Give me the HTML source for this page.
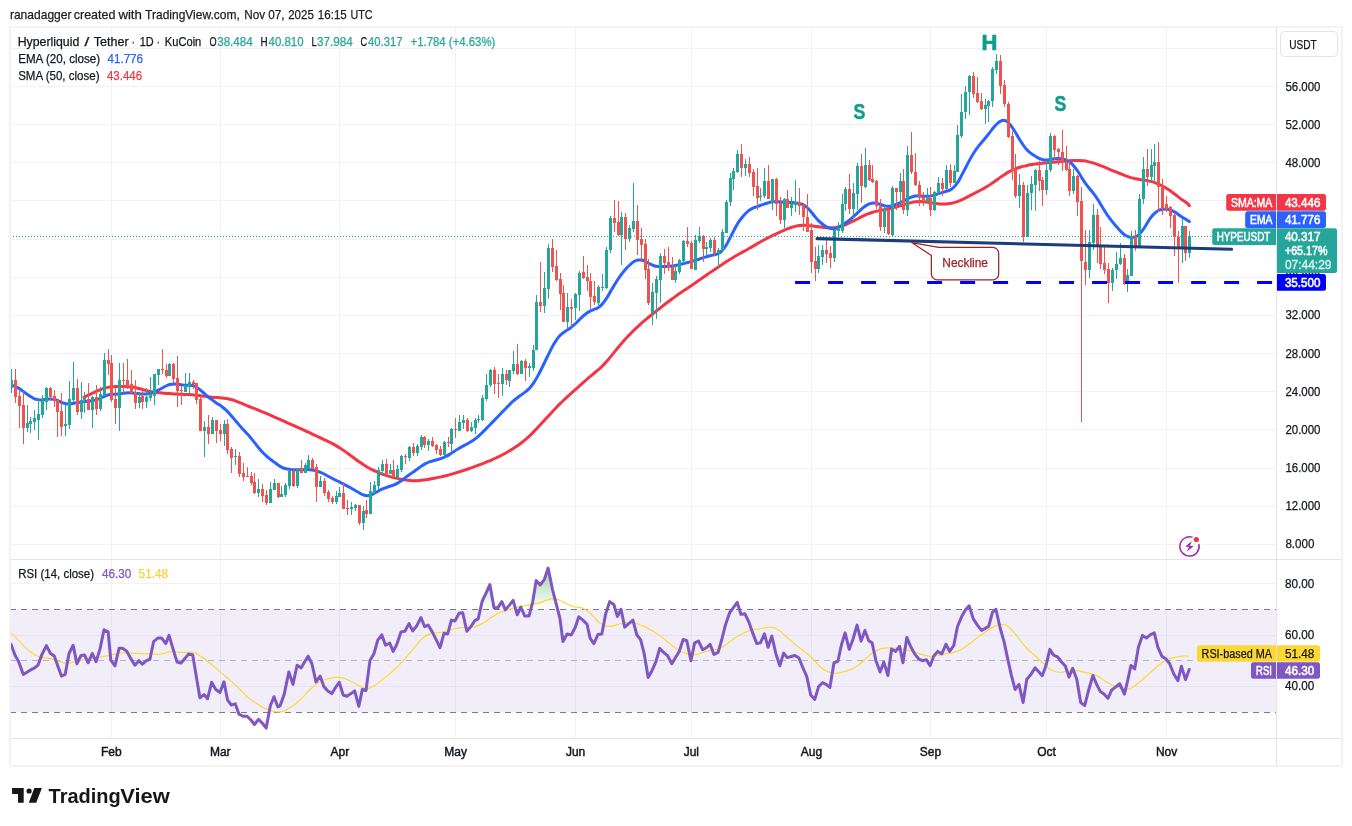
<!DOCTYPE html>
<html lang="en"><head><meta charset="utf-8"><title>HYPEUSDT chart</title>
<style>html,body{margin:0;padding:0;background:#fff}svg{display:block}</style></head>
<body>
<svg width="1352" height="826" viewBox="0 0 1352 826" font-family='"Liberation Sans", sans-serif'>
<defs>
<linearGradient id="gob" gradientUnits="userSpaceOnUse" x1="0" y1="545" x2="0" y2="609.2"><stop offset="0" stop-color="#4caf50" stop-opacity="0.85"/><stop offset="1" stop-color="#4caf50" stop-opacity="0"/></linearGradient>
<linearGradient id="gos" gradientUnits="userSpaceOnUse" x1="0" y1="712.2" x2="0" y2="776"><stop offset="0" stop-color="#ff5252" stop-opacity="0"/><stop offset="1" stop-color="#ff5252" stop-opacity="0.85"/></linearGradient>
<clipPath id="cob"><rect x="10" y="560" width="1266.5" height="49.200000000000045"/></clipPath>
<clipPath id="cos"><rect x="10" y="712.2" width="1266.5" height="25.799999999999955"/></clipPath>
<clipPath id="cpane"><rect x="11" y="27" width="1265.5" height="532.5"/></clipPath>
<clipPath id="crsi"><rect x="11" y="560" width="1265.5" height="178.5"/></clipPath>
</defs>
<rect width="1352" height="826" fill="#fff"/>
<text y="19" font-size="13" fill="#1b1d26" stroke="#1b1d26" stroke-width="0.25" ><tspan x="9.9" textLength="61.6" lengthAdjust="spacingAndGlyphs">ranadagger</tspan> <tspan x="73.8" textLength="41.6" lengthAdjust="spacingAndGlyphs">created</tspan> <tspan x="118.4" textLength="23.5" lengthAdjust="spacingAndGlyphs">with</tspan> <tspan x="145.1" textLength="94.7" lengthAdjust="spacingAndGlyphs">TradingView.com,</tspan> <tspan x="244.3" textLength="20.8" lengthAdjust="spacingAndGlyphs">Nov</tspan> <tspan x="268.2" textLength="16.4" lengthAdjust="spacingAndGlyphs">07,</tspan> <tspan x="288.2" textLength="25.7" lengthAdjust="spacingAndGlyphs">2025</tspan> <tspan x="317.8" textLength="29" lengthAdjust="spacingAndGlyphs">16:15</tspan> <tspan x="350.4" textLength="22.1" lengthAdjust="spacingAndGlyphs">UTC</tspan></text>
<g stroke="#f2f2f5" stroke-width="1" shape-rendering="crispEdges">
<line x1="111.5" y1="27" x2="111.5" y2="738.5"/>
<line x1="220.5" y1="27" x2="220.5" y2="738.5"/>
<line x1="339.5" y1="27" x2="339.5" y2="738.5"/>
<line x1="455.5" y1="27" x2="455.5" y2="738.5"/>
<line x1="575.5" y1="27" x2="575.5" y2="738.5"/>
<line x1="691.5" y1="27" x2="691.5" y2="738.5"/>
<line x1="811.5" y1="27" x2="811.5" y2="738.5"/>
<line x1="930.5" y1="27" x2="930.5" y2="738.5"/>
<line x1="1046.5" y1="27" x2="1046.5" y2="738.5"/>
<line x1="1166.5" y1="27" x2="1166.5" y2="738.5"/>
<line x1="10" y1="48.5" x2="1276.5" y2="48.5"/>
<line x1="10" y1="86.5" x2="1276.5" y2="86.5"/>
<line x1="10" y1="124.5" x2="1276.5" y2="124.5"/>
<line x1="10" y1="162.5" x2="1276.5" y2="162.5"/>
<line x1="10" y1="200.5" x2="1276.5" y2="200.5"/>
<line x1="10" y1="239.5" x2="1276.5" y2="239.5"/>
<line x1="10" y1="277.5" x2="1276.5" y2="277.5"/>
<line x1="10" y1="315.5" x2="1276.5" y2="315.5"/>
<line x1="10" y1="353.5" x2="1276.5" y2="353.5"/>
<line x1="10" y1="391.5" x2="1276.5" y2="391.5"/>
<line x1="10" y1="429.5" x2="1276.5" y2="429.5"/>
<line x1="10" y1="468.5" x2="1276.5" y2="468.5"/>
<line x1="10" y1="506.5" x2="1276.5" y2="506.5"/>
<line x1="10" y1="544.5" x2="1276.5" y2="544.5"/>
<line x1="10" y1="583.5" x2="1276.5" y2="583.5"/>
<line x1="10" y1="635.5" x2="1276.5" y2="635.5"/>
<line x1="10" y1="686.5" x2="1276.5" y2="686.5"/>
</g>
<rect x="10" y="609.2" width="1266.5" height="103.0" fill="#7e57c2" fill-opacity="0.1"/>
<g stroke="#787b86" stroke-width="1" stroke-dasharray="6 5" fill="none">
<line x1="10" y1="609.5" x2="1276.5" y2="609.5"/>
<line x1="10" y1="712.5" x2="1276.5" y2="712.5"/>
<line x1="10" y1="660.5" x2="1276.5" y2="660.5" stroke-opacity="0.5"/>
</g>
<g clip-path="url(#crsi)">
<polygon clip-path="url(#cob)" fill="url(#gob)" points="11.03,609.2 11.03,644.22 15.14,655.53 18.23,660.68 23.37,674.47 30.58,669.94 34.69,667.88 38.19,664.79 41.89,654.51 46.42,645.66 50.53,653.48 54.24,655.95 57.74,665.82 61.44,676.11 65.14,674.47 69.05,653.48 73.17,645.25 76.87,663.77 80.99,655.53 84.49,654.92 88.19,662.74 92.3,653.48 96.01,661.71 99.92,649.36 104.03,629.81 108.15,631.87 110.82,660.06 114.94,665.82 119.05,648.33 122.76,648.33 126.87,651.42 130.78,658.62 134.9,665.21 139.01,660.68 142.3,664.18 146.42,660.68 149.92,659.24 153.62,641.54 157.74,638.05 161.65,638.05 165.76,643.6 169.05,635.37 173.17,649.36 177.08,662.12 180.78,663.15 184.9,658.62 188.6,653.89 192.72,654.92 196.21,676.11 199.92,697.72 204.03,694.63 207.53,698.74 211.65,682.28 215.76,689.49 219.88,692.57 223.99,681.87 227.49,699.77 231.19,704.92 235.31,703.89 239.01,714.18 243.13,716.23 247.04,716.23 250.74,719.73 254.44,724.47 258.56,719.32 262.47,723.44 266.17,728.17 270.29,705.95 273.99,696.69 277.9,706.98 280,705.95 284.12,694.63 288.85,672 292.96,684.34 297.08,665.21 301.19,667.88 304.69,661.71 308.19,656.15 311.89,663.77 316.01,681.87 320.12,676.11 323.83,686.4 327.74,690.93 331.85,693.6 335.56,687.43 339.26,682.28 343.17,695.04 346.87,696.28 350.99,693.6 354.69,690.93 358.81,706.36 362.3,689.49 366.01,690.51 369.92,660.68 374.03,653.48 377.74,640.1 381.85,634.96 385.56,645.25 389.67,643.19 393.17,651.42 396.87,644.22 400.99,631.87 404.9,631.26 409.01,623.64 412.72,630.84 416.83,625.7 420.95,617.47 424.65,626.73 428.15,625.08 432.26,631.87 436.38,640.1 440.08,647.72 443.99,633.31 447.7,633.93 451.4,620.14 454.9,620.97 459.01,613.35 462.72,612.74 466.83,631.26 470.74,626.73 474.86,620.56 478.15,618.91 482.26,601.01 486.17,592.78 489.88,584.55 493.99,607.8 497.7,607.8 501.81,601.63 505.31,609.86 509.42,605.12 513.13,600.39 517.24,614.79 520.74,607.18 524.86,616.03 528.97,616.03 532.67,602.04 536.17,580.43 540.29,584.96 544.4,579.4 548.11,568.09 552.47,589.28 555.76,602.04 559.88,618.09 562.96,641.54 567.08,633.93 571.19,634.96 575.1,627.76 578.81,616.85 582.92,620.14 587.04,624.26 590.12,638.05 593.83,643.6 597.94,634.55 601.85,633.93 605.56,614.38 609.67,601.63 613.79,604.51 617.49,616.44 620.99,609.24 624.69,627.14 628.81,623.64 632.92,620.14 636.83,634.96 640.53,639.49 644.24,653.89 648.15,677.55 651.85,670.97 655.97,661.71 659.67,648.33 663.58,652.45 667.7,655.95 671.81,663.77 675.51,657.59 679.22,651.42 683.13,639.49 686.83,640.72 690.95,660.68 694.65,642.78 698.56,641.13 702.67,649.77 706.38,647.72 710.08,644.22 713.99,654.51 718.11,652.45 721.81,639.49 725.51,624.67 729.63,612.74 733.74,607.18 737.24,602.45 740.95,614.38 744.86,613.77 748.97,622.2 752.67,632.9 756.79,643.6 760.49,642.78 764.4,633.93 768.11,647.3 771.81,635.99 775.93,653.89 779.84,665.82 783.54,653.07 787.24,657.59 791.15,656.56 794.86,655.53 798.97,658 802.67,667.26 806.79,676.52 810.7,695.04 814.81,699.36 818.52,686.81 822.47,682.7 826.17,684.34 829.88,687.43 833.99,662.74 837.9,661.3 841.6,644.22 845.1,632.9 849.22,649.36 852.92,639.49 857.04,625.08 861.15,641.13 864.86,630.43 868.77,640.72 872.06,642.78 875.97,660.68 880.08,672 883.79,662.12 887.9,675.49 891.6,648.95 895.72,651.42 899.63,646.28 902.92,662.74 906.83,637.43 910.53,646.28 914.65,653.89 918.77,659.03 922.47,660.68 926.38,659.65 930.08,665.82 933.79,655.95 937.7,651.42 941.81,653.89 945.93,644.22 949.63,651.42 953.74,645.66 957.45,626.73 961.56,616.85 965.47,609.86 969.18,605.74 973.29,618.91 977.41,625.08 981.52,630.43 985.23,628.37 988.72,626.32 992.43,612.33 995.93,609.24 1000.04,627.76 1004.16,642.16 1007.65,658.62 1011.36,675.08 1015.06,689.49 1018.97,684.34 1023.09,702.45 1026.79,679.2 1030.49,675.08 1035.02,667.88 1038.52,671.58 1042.22,675.7 1045.93,665.82 1049.84,649.36 1053.54,655.12 1057.65,656.98 1061.36,661.71 1065.47,666.23 1068.97,677.14 1072.67,668.29 1076.79,679.2 1080.7,702.45 1084.7,705.53 1088.81,689.49 1092.93,675.49 1096.63,684.34 1100.34,691.54 1104.25,694.22 1107.95,698.33 1111.65,690.1 1115.77,686.81 1119.68,683.72 1124.41,694.22 1127.5,681.26 1131,665.41 1134.7,668.91 1138.4,647.3 1142.52,635.37 1146.43,638.05 1150.54,634.55 1154.25,632.9 1157.95,647.3 1161.86,656.15 1165.98,659.03 1169.68,663.77 1173.79,674.05 1177.91,680.64 1181.41,666.23 1185.52,679.61 1189.23,669.53 1189.23,609.2"/>
<polygon clip-path="url(#cos)" fill="url(#gos)" points="11.03,712.2 11.03,644.22 15.14,655.53 18.23,660.68 23.37,674.47 30.58,669.94 34.69,667.88 38.19,664.79 41.89,654.51 46.42,645.66 50.53,653.48 54.24,655.95 57.74,665.82 61.44,676.11 65.14,674.47 69.05,653.48 73.17,645.25 76.87,663.77 80.99,655.53 84.49,654.92 88.19,662.74 92.3,653.48 96.01,661.71 99.92,649.36 104.03,629.81 108.15,631.87 110.82,660.06 114.94,665.82 119.05,648.33 122.76,648.33 126.87,651.42 130.78,658.62 134.9,665.21 139.01,660.68 142.3,664.18 146.42,660.68 149.92,659.24 153.62,641.54 157.74,638.05 161.65,638.05 165.76,643.6 169.05,635.37 173.17,649.36 177.08,662.12 180.78,663.15 184.9,658.62 188.6,653.89 192.72,654.92 196.21,676.11 199.92,697.72 204.03,694.63 207.53,698.74 211.65,682.28 215.76,689.49 219.88,692.57 223.99,681.87 227.49,699.77 231.19,704.92 235.31,703.89 239.01,714.18 243.13,716.23 247.04,716.23 250.74,719.73 254.44,724.47 258.56,719.32 262.47,723.44 266.17,728.17 270.29,705.95 273.99,696.69 277.9,706.98 280,705.95 284.12,694.63 288.85,672 292.96,684.34 297.08,665.21 301.19,667.88 304.69,661.71 308.19,656.15 311.89,663.77 316.01,681.87 320.12,676.11 323.83,686.4 327.74,690.93 331.85,693.6 335.56,687.43 339.26,682.28 343.17,695.04 346.87,696.28 350.99,693.6 354.69,690.93 358.81,706.36 362.3,689.49 366.01,690.51 369.92,660.68 374.03,653.48 377.74,640.1 381.85,634.96 385.56,645.25 389.67,643.19 393.17,651.42 396.87,644.22 400.99,631.87 404.9,631.26 409.01,623.64 412.72,630.84 416.83,625.7 420.95,617.47 424.65,626.73 428.15,625.08 432.26,631.87 436.38,640.1 440.08,647.72 443.99,633.31 447.7,633.93 451.4,620.14 454.9,620.97 459.01,613.35 462.72,612.74 466.83,631.26 470.74,626.73 474.86,620.56 478.15,618.91 482.26,601.01 486.17,592.78 489.88,584.55 493.99,607.8 497.7,607.8 501.81,601.63 505.31,609.86 509.42,605.12 513.13,600.39 517.24,614.79 520.74,607.18 524.86,616.03 528.97,616.03 532.67,602.04 536.17,580.43 540.29,584.96 544.4,579.4 548.11,568.09 552.47,589.28 555.76,602.04 559.88,618.09 562.96,641.54 567.08,633.93 571.19,634.96 575.1,627.76 578.81,616.85 582.92,620.14 587.04,624.26 590.12,638.05 593.83,643.6 597.94,634.55 601.85,633.93 605.56,614.38 609.67,601.63 613.79,604.51 617.49,616.44 620.99,609.24 624.69,627.14 628.81,623.64 632.92,620.14 636.83,634.96 640.53,639.49 644.24,653.89 648.15,677.55 651.85,670.97 655.97,661.71 659.67,648.33 663.58,652.45 667.7,655.95 671.81,663.77 675.51,657.59 679.22,651.42 683.13,639.49 686.83,640.72 690.95,660.68 694.65,642.78 698.56,641.13 702.67,649.77 706.38,647.72 710.08,644.22 713.99,654.51 718.11,652.45 721.81,639.49 725.51,624.67 729.63,612.74 733.74,607.18 737.24,602.45 740.95,614.38 744.86,613.77 748.97,622.2 752.67,632.9 756.79,643.6 760.49,642.78 764.4,633.93 768.11,647.3 771.81,635.99 775.93,653.89 779.84,665.82 783.54,653.07 787.24,657.59 791.15,656.56 794.86,655.53 798.97,658 802.67,667.26 806.79,676.52 810.7,695.04 814.81,699.36 818.52,686.81 822.47,682.7 826.17,684.34 829.88,687.43 833.99,662.74 837.9,661.3 841.6,644.22 845.1,632.9 849.22,649.36 852.92,639.49 857.04,625.08 861.15,641.13 864.86,630.43 868.77,640.72 872.06,642.78 875.97,660.68 880.08,672 883.79,662.12 887.9,675.49 891.6,648.95 895.72,651.42 899.63,646.28 902.92,662.74 906.83,637.43 910.53,646.28 914.65,653.89 918.77,659.03 922.47,660.68 926.38,659.65 930.08,665.82 933.79,655.95 937.7,651.42 941.81,653.89 945.93,644.22 949.63,651.42 953.74,645.66 957.45,626.73 961.56,616.85 965.47,609.86 969.18,605.74 973.29,618.91 977.41,625.08 981.52,630.43 985.23,628.37 988.72,626.32 992.43,612.33 995.93,609.24 1000.04,627.76 1004.16,642.16 1007.65,658.62 1011.36,675.08 1015.06,689.49 1018.97,684.34 1023.09,702.45 1026.79,679.2 1030.49,675.08 1035.02,667.88 1038.52,671.58 1042.22,675.7 1045.93,665.82 1049.84,649.36 1053.54,655.12 1057.65,656.98 1061.36,661.71 1065.47,666.23 1068.97,677.14 1072.67,668.29 1076.79,679.2 1080.7,702.45 1084.7,705.53 1088.81,689.49 1092.93,675.49 1096.63,684.34 1100.34,691.54 1104.25,694.22 1107.95,698.33 1111.65,690.1 1115.77,686.81 1119.68,683.72 1124.41,694.22 1127.5,681.26 1131,665.41 1134.7,668.91 1138.4,647.3 1142.52,635.37 1146.43,638.05 1150.54,634.55 1154.25,632.9 1157.95,647.3 1161.86,656.15 1165.98,659.03 1169.68,663.77 1173.79,674.05 1177.91,680.64 1181.41,666.23 1185.52,679.61 1189.23,669.53 1189.23,712.2"/>
<path d="M11.03 632.9C11.7 633.57 13.7 635.57 15.03 636.9C16.36 638.23 17.7 639.57 19.03 640.9C20.36 642.23 21.7 643.58 23.03 644.9C24.36 646.22 25.7 647.62 27.03 648.84C28.36 650.05 29.7 651.18 31.03 652.21C32.36 653.23 33.7 654.24 35.03 654.97C36.36 655.71 37.7 656.18 39.03 656.63C40.36 657.08 41.7 657.42 43.03 657.67C44.36 657.93 45.7 657.93 47.03 658.14C48.36 658.35 49.7 658.61 51.03 658.92C52.36 659.23 53.7 659.6 55.03 660.02C56.36 660.44 57.7 661.01 59.03 661.43C60.36 661.86 61.7 662.33 63.03 662.58C64.36 662.84 65.7 662.96 67.03 662.96C68.36 662.96 69.7 662.79 71.03 662.58C72.36 662.37 73.7 662 75.03 661.73C76.36 661.46 77.7 661.19 79.03 660.94C80.36 660.69 81.7 660.45 83.03 660.21C84.36 659.98 85.7 659.75 87.03 659.53C88.36 659.3 89.7 659.07 91.03 658.84C92.36 658.62 93.7 658.39 95.03 658.17C96.36 657.95 97.7 657.73 99.03 657.5C100.36 657.27 101.7 657.03 103.03 656.77C104.36 656.51 105.7 656.22 107.03 655.92C108.36 655.62 109.7 655.29 111.03 654.97C112.36 654.64 113.7 654.27 115.03 653.97C116.36 653.67 117.7 653.37 119.03 653.17C120.36 652.97 121.7 652.84 123.03 652.79C124.36 652.73 125.7 652.77 127.03 652.82C128.36 652.87 129.7 652.99 131.03 653.07C132.36 653.15 133.7 653.23 135.03 653.3C136.36 653.38 137.7 653.44 139.03 653.5C140.36 653.56 141.7 653.61 143.03 653.66C144.36 653.71 145.7 653.75 147.03 653.8C148.36 653.85 149.7 653.9 151.03 653.96C152.36 654.02 153.7 654.1 155.03 654.14C156.36 654.19 157.7 654.3 159.03 654.22C160.36 654.13 161.7 653.91 163.03 653.62C164.36 653.33 165.7 652.8 167.03 652.48C168.36 652.15 169.7 651.79 171.03 651.66C172.36 651.53 173.7 651.61 175.03 651.71C176.36 651.81 177.7 652.16 179.03 652.28C180.36 652.41 181.7 652.47 183.03 652.46C184.36 652.45 185.7 652.26 187.03 652.24C188.36 652.21 189.7 652.16 191.03 652.32C192.36 652.48 193.7 652.7 195.03 653.18C196.36 653.66 197.7 654.4 199.03 655.17C200.36 655.95 201.7 656.88 203.03 657.84C204.36 658.8 205.7 659.89 207.03 660.94C208.36 661.98 209.7 663.02 211.03 664.09C212.36 665.17 213.7 666.28 215.03 667.4C216.36 668.53 217.7 669.68 219.03 670.85C220.36 672.01 221.7 673.23 223.03 674.39C224.36 675.55 225.7 676.7 227.03 677.82C228.36 678.95 229.7 680 231.03 681.12C232.36 682.25 233.7 683.37 235.03 684.59C236.36 685.82 237.7 687.11 239.03 688.46C240.36 689.81 241.7 691.34 243.03 692.68C244.36 694.02 245.7 695.31 247.03 696.49C248.36 697.67 249.7 698.77 251.03 699.77C252.36 700.77 253.7 701.61 255.03 702.5C256.36 703.39 257.7 704.25 259.03 705.1C260.36 705.94 261.7 706.84 263.03 707.56C264.36 708.28 265.7 708.89 267.03 709.42C268.36 709.94 269.7 710.33 271.03 710.71C272.36 711.08 273.7 711.45 275.03 711.65C276.36 711.86 277.7 712 279.03 711.95C280.36 711.9 281.7 711.75 283.03 711.36C284.36 710.96 285.7 710.27 287.03 709.56C288.36 708.85 289.7 707.98 291.03 707.09C292.36 706.19 293.7 705.26 295.03 704.21C296.36 703.16 297.7 701.98 299.03 700.77C300.36 699.55 301.7 698.27 303.03 696.92C304.36 695.58 305.7 694.06 307.03 692.69C308.36 691.32 309.7 689.97 311.03 688.71C312.36 687.45 313.7 686.19 315.03 685.13C316.36 684.06 317.7 683.11 319.03 682.3C320.36 681.49 321.7 680.82 323.03 680.28C324.36 679.73 325.7 679.39 327.03 679.04C328.36 678.69 329.7 678.47 331.03 678.2C332.36 677.92 333.7 677.54 335.03 677.4C336.36 677.25 337.7 677.22 339.03 677.32C340.36 677.42 341.7 677.62 343.03 677.98C344.36 678.35 345.7 678.96 347.03 679.52C348.36 680.07 349.7 680.65 351.03 681.31C352.36 681.96 353.7 682.72 355.03 683.46C356.36 684.2 357.7 685.04 359.03 685.75C360.36 686.46 361.7 687.28 363.03 687.72C364.36 688.16 365.7 688.41 367.03 688.39C368.36 688.36 369.7 688.08 371.03 687.56C372.36 687.04 373.7 686.13 375.03 685.26C376.36 684.4 377.7 683.39 379.03 682.37C380.36 681.34 381.7 680.19 383.03 679.11C384.36 678.03 385.7 676.97 387.03 675.88C388.36 674.79 389.7 673.71 391.03 672.56C392.36 671.4 393.7 670.21 395.03 668.96C396.36 667.72 397.7 666.46 399.03 665.11C400.36 663.76 401.7 662.33 403.03 660.87C404.36 659.41 405.7 657.91 407.03 656.36C408.36 654.82 409.7 653.19 411.03 651.59C412.36 650 413.7 648.39 415.03 646.79C416.36 645.19 417.7 643.46 419.03 641.99C420.36 640.53 421.7 639.16 423.03 638.02C424.36 636.87 425.7 635.86 427.03 635.14C428.36 634.42 429.7 634.04 431.03 633.67C432.36 633.3 433.7 633.11 435.03 632.93C436.36 632.75 437.7 632.74 439.03 632.59C440.36 632.43 441.7 632.26 443.03 632C444.36 631.74 445.7 631.4 447.03 631.04C448.36 630.68 449.7 630.22 451.03 629.83C452.36 629.44 453.7 629.03 455.03 628.71C456.36 628.39 457.7 628.09 459.03 627.89C460.36 627.69 461.7 627.59 463.03 627.51C464.36 627.44 465.7 627.48 467.03 627.44C468.36 627.4 469.7 627.41 471.03 627.27C472.36 627.12 473.7 626.91 475.03 626.56C476.36 626.2 477.7 625.7 479.03 625.12C480.36 624.54 481.7 623.86 483.03 623.08C484.36 622.31 485.7 621.37 487.03 620.47C488.36 619.58 489.7 618.61 491.03 617.72C492.36 616.83 493.7 615.94 495.03 615.14C496.36 614.34 497.7 613.59 499.03 612.95C500.36 612.3 501.7 611.78 503.03 611.27C504.36 610.75 505.7 610.28 507.03 609.85C508.36 609.43 509.7 609.09 511.03 608.74C512.36 608.39 513.7 608.06 515.03 607.76C516.36 607.45 517.7 607.18 519.03 606.91C520.36 606.63 521.7 606.37 523.03 606.11C524.36 605.84 525.7 605.57 527.03 605.31C528.36 605.04 529.7 604.77 531.03 604.51C532.36 604.24 533.7 603.97 535.03 603.71C536.36 603.44 537.7 603.26 539.03 602.91C540.36 602.55 541.7 602.08 543.03 601.59C544.36 601.1 545.7 600.44 547.03 599.97C548.36 599.51 549.7 599 551.03 598.79C552.36 598.57 553.7 598.48 555.03 598.68C556.36 598.88 557.7 599.45 559.03 599.98C560.36 600.52 561.7 601.23 563.03 601.9C564.36 602.58 565.7 603.38 567.03 604.02C568.36 604.67 569.7 605.31 571.03 605.77C572.36 606.24 573.7 606.54 575.03 606.82C576.36 607.09 577.7 607.18 579.03 607.44C580.36 607.7 581.7 607.83 583.03 608.36C584.36 608.88 585.7 609.63 587.03 610.59C588.36 611.56 589.7 612.86 591.03 614.15C592.36 615.44 593.7 616.97 595.03 618.34C596.36 619.7 597.7 621.22 599.03 622.34C600.36 623.46 601.7 624.39 603.03 625.06C604.36 625.73 605.7 626.18 607.03 626.35C608.36 626.52 609.7 626.26 611.03 626.09C612.36 625.93 613.7 625.67 615.03 625.37C616.36 625.07 617.7 624.64 619.03 624.28C620.36 623.93 621.7 623.52 623.03 623.24C624.36 622.96 625.7 622.73 627.03 622.61C628.36 622.49 629.7 622.42 631.03 622.52C632.36 622.61 633.7 622.9 635.03 623.2C636.36 623.49 637.7 623.84 639.03 624.29C640.36 624.75 641.7 625.33 643.03 625.92C644.36 626.52 645.7 627.17 647.03 627.87C648.36 628.57 649.7 629.36 651.03 630.13C652.36 630.89 653.7 631.66 655.03 632.47C656.36 633.29 657.7 634.09 659.03 635.01C660.36 635.94 661.7 636.95 663.03 638C664.36 639.06 665.7 640.24 667.03 641.36C668.36 642.48 669.7 643.67 671.03 644.73C672.36 645.79 673.7 646.82 675.03 647.74C676.36 648.67 677.7 649.52 679.03 650.29C680.36 651.06 681.7 651.78 683.03 652.38C684.36 652.97 685.7 653.46 687.03 653.86C688.36 654.25 689.7 654.62 691.03 654.76C692.36 654.9 693.7 654.83 695.03 654.69C696.36 654.54 697.7 654.26 699.03 653.9C700.36 653.54 701.7 652.98 703.03 652.52C704.36 652.06 705.7 651.53 707.03 651.14C708.36 650.75 709.7 650.45 711.03 650.21C712.36 649.97 713.7 649.95 715.03 649.71C716.36 649.46 717.7 649.21 719.03 648.74C720.36 648.26 721.7 647.66 723.03 646.86C724.36 646.07 725.7 644.96 727.03 643.96C728.36 642.96 729.7 641.87 731.03 640.86C732.36 639.85 733.7 638.83 735.03 637.91C736.36 636.99 737.7 636.1 739.03 635.33C740.36 634.56 741.7 633.92 743.03 633.29C744.36 632.67 745.7 632.07 747.03 631.6C748.36 631.12 749.7 630.76 751.03 630.43C752.36 630.1 753.7 629.85 755.03 629.61C756.36 629.36 757.7 629.19 759.03 628.96C760.36 628.74 761.7 628.52 763.03 628.27C764.36 628.02 765.7 627.64 767.03 627.47C768.36 627.3 769.7 627.16 771.03 627.25C772.36 627.34 773.7 627.49 775.03 628.01C776.36 628.52 777.7 629.41 779.03 630.34C780.36 631.27 781.7 632.43 783.03 633.59C784.36 634.75 785.7 636.07 787.03 637.28C788.36 638.49 789.7 639.71 791.03 640.86C792.36 642.01 793.7 643.11 795.03 644.19C796.36 645.27 797.7 646.31 799.03 647.35C800.36 648.39 801.7 649.38 803.03 650.41C804.36 651.45 805.7 652.41 807.03 653.55C808.36 654.68 809.7 655.94 811.03 657.24C812.36 658.54 813.7 659.98 815.03 661.36C816.36 662.73 817.7 664.23 819.03 665.5C820.36 666.77 821.7 668 823.03 668.97C824.36 669.95 825.7 670.72 827.03 671.35C828.36 671.99 829.7 672.46 831.03 672.77C832.36 673.09 833.7 673.23 835.03 673.25C836.36 673.27 837.7 673.08 839.03 672.88C840.36 672.67 841.7 672.35 843.03 672.01C844.36 671.68 845.7 671.3 847.03 670.87C848.36 670.44 849.7 670 851.03 669.42C852.36 668.84 853.7 668.2 855.03 667.4C856.36 666.6 857.7 665.64 859.03 664.6C860.36 663.57 861.7 662.38 863.03 661.19C864.36 660.01 865.7 658.71 867.03 657.5C868.36 656.29 869.7 654.99 871.03 653.95C872.36 652.9 873.7 652.02 875.03 651.25C876.36 650.48 877.7 649.82 879.03 649.33C880.36 648.84 881.7 648.57 883.03 648.31C884.36 648.06 885.7 647.87 887.03 647.8C888.36 647.72 889.7 647.8 891.03 647.87C892.36 647.94 893.7 648.07 895.03 648.22C896.36 648.36 897.7 648.56 899.03 648.72C900.36 648.89 901.7 649.02 903.03 649.21C904.36 649.4 905.7 649.59 907.03 649.86C908.36 650.14 909.7 650.48 911.03 650.86C912.36 651.25 913.7 651.74 915.03 652.19C916.36 652.65 917.7 653.14 919.03 653.59C920.36 654.03 921.7 654.45 923.03 654.85C924.36 655.25 925.7 655.72 927.03 655.96C928.36 656.21 929.7 656.33 931.03 656.35C932.36 656.36 933.7 656.25 935.03 656.04C936.36 655.83 937.7 655.39 939.03 655.09C940.36 654.78 941.7 654.45 943.03 654.2C944.36 653.95 945.7 653.76 947.03 653.57C948.36 653.37 949.7 653.27 951.03 653.03C952.36 652.79 953.7 652.53 955.03 652.13C956.36 651.72 957.7 651.22 959.03 650.58C960.36 649.94 961.7 649.11 963.03 648.28C964.36 647.44 965.7 646.52 967.03 645.57C968.36 644.62 969.7 643.57 971.03 642.57C972.36 641.57 973.7 640.57 975.03 639.57C976.36 638.57 977.7 637.57 979.03 636.57C980.36 635.57 981.7 634.55 983.03 633.59C984.36 632.62 985.7 631.68 987.03 630.77C988.36 629.86 989.7 628.9 991.03 628.13C992.36 627.36 993.7 626.73 995.03 626.15C996.36 625.57 997.7 624.94 999.03 624.67C1000.36 624.39 1001.7 624.34 1003.03 624.51C1004.36 624.69 1005.7 624.98 1007.03 625.72C1008.36 626.46 1009.7 627.66 1011.03 628.96C1012.36 630.25 1013.7 631.85 1015.03 633.5C1016.36 635.14 1017.7 637.1 1019.03 638.83C1020.36 640.57 1021.7 642.29 1023.03 643.9C1024.36 645.51 1025.7 647.09 1027.03 648.49C1028.36 649.89 1029.7 651.08 1031.03 652.3C1032.36 653.51 1033.7 654.6 1035.03 655.78C1036.36 656.96 1037.7 658.16 1039.03 659.39C1040.36 660.63 1041.7 661.92 1043.03 663.17C1044.36 664.42 1045.7 665.81 1047.03 666.89C1048.36 667.97 1049.7 668.91 1051.03 669.67C1052.36 670.43 1053.7 671.03 1055.03 671.45C1056.36 671.87 1057.7 672.1 1059.03 672.19C1060.36 672.29 1061.7 672.2 1063.03 672.04C1064.36 671.88 1065.7 671.47 1067.03 671.22C1068.36 670.97 1069.7 670.68 1071.03 670.55C1072.36 670.41 1073.7 670.3 1075.03 670.39C1076.36 670.47 1077.7 670.79 1079.03 671.05C1080.36 671.31 1081.7 671.65 1083.03 671.95C1084.36 672.24 1085.7 672.52 1087.03 672.81C1088.36 673.1 1089.7 673.32 1091.03 673.69C1092.36 674.06 1093.7 674.46 1095.03 675.03C1096.36 675.6 1097.7 676.34 1099.03 677.12C1100.36 677.91 1101.7 678.88 1103.03 679.73C1104.36 680.59 1105.7 681.46 1107.03 682.25C1108.36 683.05 1109.7 683.82 1111.03 684.5C1112.36 685.18 1113.7 685.79 1115.03 686.34C1116.36 686.88 1117.7 687.35 1119.03 687.78C1120.36 688.21 1121.7 688.66 1123.03 688.9C1124.36 689.13 1125.7 689.3 1127.03 689.19C1128.36 689.09 1129.7 688.82 1131.03 688.26C1132.36 687.7 1133.7 686.77 1135.03 685.82C1136.36 684.86 1137.7 683.65 1139.03 682.51C1140.36 681.37 1141.7 680.14 1143.03 678.98C1144.36 677.82 1145.7 676.7 1147.03 675.55C1148.36 674.39 1149.7 673.23 1151.03 672.04C1152.36 670.86 1153.7 669.6 1155.03 668.43C1156.36 667.27 1157.7 666.11 1159.03 665.06C1160.36 664.01 1161.7 662.95 1163.03 662.12C1164.36 661.28 1165.7 660.64 1167.03 660.05C1168.36 659.45 1169.7 658.97 1171.03 658.54C1172.36 658.1 1173.7 657.75 1175.03 657.42C1176.36 657.08 1177.7 656.74 1179.03 656.52C1180.36 656.29 1181.7 656.14 1183.03 656.06C1184.36 655.98 1186.06 656.03 1187.03 656.05C1187.99 656.06 1188.52 656.13 1188.81 656.15" fill="none" stroke="#fdd835" stroke-width="1.2" stroke-linejoin="round"/>
<polyline points="11.03,644.22 15.14,655.53 18.23,660.68 23.37,674.47 30.58,669.94 34.69,667.88 38.19,664.79 41.89,654.51 46.42,645.66 50.53,653.48 54.24,655.95 57.74,665.82 61.44,676.11 65.14,674.47 69.05,653.48 73.17,645.25 76.87,663.77 80.99,655.53 84.49,654.92 88.19,662.74 92.3,653.48 96.01,661.71 99.92,649.36 104.03,629.81 108.15,631.87 110.82,660.06 114.94,665.82 119.05,648.33 122.76,648.33 126.87,651.42 130.78,658.62 134.9,665.21 139.01,660.68 142.3,664.18 146.42,660.68 149.92,659.24 153.62,641.54 157.74,638.05 161.65,638.05 165.76,643.6 169.05,635.37 173.17,649.36 177.08,662.12 180.78,663.15 184.9,658.62 188.6,653.89 192.72,654.92 196.21,676.11 199.92,697.72 204.03,694.63 207.53,698.74 211.65,682.28 215.76,689.49 219.88,692.57 223.99,681.87 227.49,699.77 231.19,704.92 235.31,703.89 239.01,714.18 243.13,716.23 247.04,716.23 250.74,719.73 254.44,724.47 258.56,719.32 262.47,723.44 266.17,728.17 270.29,705.95 273.99,696.69 277.9,706.98 280,705.95 284.12,694.63 288.85,672 292.96,684.34 297.08,665.21 301.19,667.88 304.69,661.71 308.19,656.15 311.89,663.77 316.01,681.87 320.12,676.11 323.83,686.4 327.74,690.93 331.85,693.6 335.56,687.43 339.26,682.28 343.17,695.04 346.87,696.28 350.99,693.6 354.69,690.93 358.81,706.36 362.3,689.49 366.01,690.51 369.92,660.68 374.03,653.48 377.74,640.1 381.85,634.96 385.56,645.25 389.67,643.19 393.17,651.42 396.87,644.22 400.99,631.87 404.9,631.26 409.01,623.64 412.72,630.84 416.83,625.7 420.95,617.47 424.65,626.73 428.15,625.08 432.26,631.87 436.38,640.1 440.08,647.72 443.99,633.31 447.7,633.93 451.4,620.14 454.9,620.97 459.01,613.35 462.72,612.74 466.83,631.26 470.74,626.73 474.86,620.56 478.15,618.91 482.26,601.01 486.17,592.78 489.88,584.55 493.99,607.8 497.7,607.8 501.81,601.63 505.31,609.86 509.42,605.12 513.13,600.39 517.24,614.79 520.74,607.18 524.86,616.03 528.97,616.03 532.67,602.04 536.17,580.43 540.29,584.96 544.4,579.4 548.11,568.09 552.47,589.28 555.76,602.04 559.88,618.09 562.96,641.54 567.08,633.93 571.19,634.96 575.1,627.76 578.81,616.85 582.92,620.14 587.04,624.26 590.12,638.05 593.83,643.6 597.94,634.55 601.85,633.93 605.56,614.38 609.67,601.63 613.79,604.51 617.49,616.44 620.99,609.24 624.69,627.14 628.81,623.64 632.92,620.14 636.83,634.96 640.53,639.49 644.24,653.89 648.15,677.55 651.85,670.97 655.97,661.71 659.67,648.33 663.58,652.45 667.7,655.95 671.81,663.77 675.51,657.59 679.22,651.42 683.13,639.49 686.83,640.72 690.95,660.68 694.65,642.78 698.56,641.13 702.67,649.77 706.38,647.72 710.08,644.22 713.99,654.51 718.11,652.45 721.81,639.49 725.51,624.67 729.63,612.74 733.74,607.18 737.24,602.45 740.95,614.38 744.86,613.77 748.97,622.2 752.67,632.9 756.79,643.6 760.49,642.78 764.4,633.93 768.11,647.3 771.81,635.99 775.93,653.89 779.84,665.82 783.54,653.07 787.24,657.59 791.15,656.56 794.86,655.53 798.97,658 802.67,667.26 806.79,676.52 810.7,695.04 814.81,699.36 818.52,686.81 822.47,682.7 826.17,684.34 829.88,687.43 833.99,662.74 837.9,661.3 841.6,644.22 845.1,632.9 849.22,649.36 852.92,639.49 857.04,625.08 861.15,641.13 864.86,630.43 868.77,640.72 872.06,642.78 875.97,660.68 880.08,672 883.79,662.12 887.9,675.49 891.6,648.95 895.72,651.42 899.63,646.28 902.92,662.74 906.83,637.43 910.53,646.28 914.65,653.89 918.77,659.03 922.47,660.68 926.38,659.65 930.08,665.82 933.79,655.95 937.7,651.42 941.81,653.89 945.93,644.22 949.63,651.42 953.74,645.66 957.45,626.73 961.56,616.85 965.47,609.86 969.18,605.74 973.29,618.91 977.41,625.08 981.52,630.43 985.23,628.37 988.72,626.32 992.43,612.33 995.93,609.24 1000.04,627.76 1004.16,642.16 1007.65,658.62 1011.36,675.08 1015.06,689.49 1018.97,684.34 1023.09,702.45 1026.79,679.2 1030.49,675.08 1035.02,667.88 1038.52,671.58 1042.22,675.7 1045.93,665.82 1049.84,649.36 1053.54,655.12 1057.65,656.98 1061.36,661.71 1065.47,666.23 1068.97,677.14 1072.67,668.29 1076.79,679.2 1080.7,702.45 1084.7,705.53 1088.81,689.49 1092.93,675.49 1096.63,684.34 1100.34,691.54 1104.25,694.22 1107.95,698.33 1111.65,690.1 1115.77,686.81 1119.68,683.72 1124.41,694.22 1127.5,681.26 1131,665.41 1134.7,668.91 1138.4,647.3 1142.52,635.37 1146.43,638.05 1150.54,634.55 1154.25,632.9 1157.95,647.3 1161.86,656.15 1165.98,659.03 1169.68,663.77 1173.79,674.05 1177.91,680.64 1181.41,666.23 1185.52,679.61 1189.23,669.53" fill="none" stroke="#7e57c2" stroke-width="3" stroke-linejoin="round" stroke-linecap="round"/>
</g>
<g clip-path="url(#cpane)">
<path d="M83.9 397.26C84.57 396.95 86.57 396.04 87.9 395.41C89.23 394.78 90.57 394.11 91.9 393.48C93.23 392.85 94.57 392.24 95.9 391.64C97.23 391.04 98.57 390.41 99.9 389.87C101.23 389.33 102.57 388.84 103.9 388.43C105.23 388.01 106.57 387.65 107.9 387.37C109.23 387.1 110.57 386.9 111.9 386.75C113.23 386.59 114.57 386.51 115.9 386.46C117.23 386.4 118.57 386.44 119.9 386.44C121.23 386.44 122.57 386.42 123.9 386.46C125.23 386.5 126.57 386.57 127.9 386.67C129.23 386.77 130.57 386.88 131.9 387.06C133.23 387.24 134.57 387.47 135.9 387.74C137.23 388.02 138.57 388.36 139.9 388.71C141.23 389.06 142.57 389.47 143.9 389.84C145.23 390.2 146.57 390.57 147.9 390.89C149.23 391.22 150.57 391.53 151.9 391.78C153.23 392.04 154.57 392.23 155.9 392.41C157.23 392.59 158.57 392.71 159.9 392.84C161.23 392.97 162.57 393.08 163.9 393.18C165.23 393.29 166.57 393.37 167.9 393.46C169.23 393.56 170.57 393.65 171.9 393.74C173.23 393.84 174.57 393.94 175.9 394.02C177.23 394.11 178.57 394.18 179.9 394.25C181.23 394.31 182.57 394.36 183.9 394.41C185.23 394.45 186.57 394.46 187.9 394.51C189.23 394.57 190.57 394.64 191.9 394.75C193.23 394.85 194.57 394.99 195.9 395.13C197.23 395.28 198.57 395.44 199.9 395.61C201.23 395.79 202.57 395.99 203.9 396.18C205.23 396.38 206.57 396.6 207.9 396.77C209.23 396.94 210.57 397.07 211.9 397.19C213.23 397.3 214.57 397.38 215.9 397.47C217.23 397.56 218.57 397.62 219.9 397.73C221.23 397.84 222.57 397.96 223.9 398.14C225.23 398.32 226.57 398.51 227.9 398.79C229.23 399.06 230.57 399.42 231.9 399.81C233.23 400.2 234.57 400.65 235.9 401.13C237.23 401.62 238.57 402.17 239.9 402.7C241.23 403.23 242.57 403.78 243.9 404.34C245.23 404.89 246.57 405.47 247.9 406.02C249.23 406.57 250.57 407.11 251.9 407.64C253.23 408.17 254.57 408.68 255.9 409.21C257.23 409.74 258.57 410.27 259.9 410.81C261.23 411.35 262.57 411.9 263.9 412.45C265.23 413.01 266.57 413.58 267.9 414.15C269.23 414.73 270.57 415.32 271.9 415.91C273.23 416.5 274.57 417.09 275.9 417.68C277.23 418.28 278.57 418.87 279.9 419.46C281.23 420.05 282.57 420.65 283.9 421.24C285.23 421.83 286.57 422.43 287.9 423.02C289.23 423.61 290.57 424.2 291.9 424.79C293.23 425.38 294.57 425.97 295.9 426.56C297.23 427.15 298.57 427.73 299.9 428.32C301.23 428.92 302.57 429.52 303.9 430.12C305.23 430.73 306.57 431.34 307.9 431.96C309.23 432.57 310.57 433.2 311.9 433.83C313.23 434.46 314.57 435.09 315.9 435.73C317.23 436.36 318.57 437 319.9 437.64C321.23 438.27 322.57 438.9 323.9 439.53C325.23 440.15 326.57 440.74 327.9 441.39C329.23 442.04 330.57 442.7 331.9 443.4C333.23 444.1 334.57 444.84 335.9 445.61C337.23 446.38 338.57 447.18 339.9 448.01C341.23 448.85 342.57 449.71 343.9 450.62C345.23 451.54 346.57 452.52 347.9 453.49C349.23 454.46 350.57 455.45 351.9 456.44C353.23 457.43 354.57 458.45 355.9 459.43C357.23 460.41 358.57 461.37 359.9 462.3C361.23 463.23 362.57 464.16 363.9 465.01C365.23 465.87 366.57 466.68 367.9 467.44C369.23 468.2 370.57 468.9 371.9 469.57C373.23 470.24 374.57 470.84 375.9 471.43C377.23 472.03 378.57 472.6 379.9 473.13C381.23 473.66 382.57 474.14 383.9 474.61C385.23 475.08 386.57 475.52 387.9 475.94C389.23 476.36 390.57 476.76 391.9 477.12C393.23 477.48 394.57 477.81 395.9 478.12C397.23 478.43 398.57 478.7 399.9 478.97C401.23 479.24 402.57 479.5 403.9 479.73C405.23 479.96 406.57 480.16 407.9 480.33C409.23 480.49 410.57 480.64 411.9 480.72C413.23 480.8 414.57 480.84 415.9 480.82C417.23 480.8 418.57 480.7 419.9 480.58C421.23 480.46 422.57 480.28 423.9 480.09C425.23 479.9 426.57 479.68 427.9 479.44C429.23 479.21 430.57 478.94 431.9 478.68C433.23 478.43 434.57 478.19 435.9 477.93C437.23 477.68 438.57 477.43 439.9 477.15C441.23 476.88 442.57 476.58 443.9 476.27C445.23 475.96 446.57 475.62 447.9 475.27C449.23 474.92 450.57 474.55 451.9 474.15C453.23 473.76 454.57 473.33 455.9 472.91C457.23 472.48 458.57 472.06 459.9 471.63C461.23 471.2 462.57 470.76 463.9 470.33C465.23 469.89 466.57 469.46 467.9 469C469.23 468.55 470.57 468.08 471.9 467.61C473.23 467.14 474.57 466.66 475.9 466.17C477.23 465.68 478.57 465.18 479.9 464.67C481.23 464.16 482.57 463.64 483.9 463.11C485.23 462.57 486.57 462.02 487.9 461.46C489.23 460.91 490.57 460.36 491.9 459.78C493.23 459.21 494.57 458.63 495.9 458.01C497.23 457.4 498.57 456.75 499.9 456.08C501.23 455.42 502.57 454.72 503.9 454C505.23 453.29 506.57 452.54 507.9 451.77C509.23 451 510.57 450.19 511.9 449.36C513.23 448.54 514.57 447.72 515.9 446.83C517.23 445.95 518.57 445.05 519.9 444.06C521.23 443.08 522.57 442.02 523.9 440.91C525.23 439.81 526.57 438.64 527.9 437.42C529.23 436.2 530.57 434.92 531.9 433.59C533.23 432.26 534.57 430.84 535.9 429.44C537.23 428.03 538.57 426.58 539.9 425.15C541.23 423.72 542.57 422.29 543.9 420.86C545.23 419.43 546.57 418 547.9 416.56C549.23 415.13 550.57 413.7 551.9 412.27C553.23 410.85 554.57 409.4 555.9 408.01C557.23 406.62 558.57 405.26 559.9 403.93C561.23 402.6 562.57 401.3 563.9 400.03C565.23 398.76 566.57 397.53 567.9 396.3C569.23 395.08 570.57 393.87 571.9 392.67C573.23 391.47 574.57 390.31 575.9 389.11C577.23 387.92 578.57 386.69 579.9 385.5C581.23 384.3 582.57 383.11 583.9 381.94C585.23 380.77 586.57 379.61 587.9 378.47C589.23 377.33 590.57 376.22 591.9 375.1C593.23 373.98 594.57 372.89 595.9 371.75C597.23 370.62 598.57 369.51 599.9 368.28C601.23 367.05 602.57 365.75 603.9 364.37C605.23 362.98 606.57 361.52 607.9 359.98C609.23 358.43 610.57 356.72 611.9 355.09C613.23 353.47 614.57 351.85 615.9 350.23C617.23 348.62 618.57 346.98 619.9 345.39C621.23 343.81 622.57 342.26 623.9 340.74C625.23 339.23 626.57 337.72 627.9 336.32C629.23 334.91 630.57 333.63 631.9 332.31C633.23 330.98 634.57 329.65 635.9 328.36C637.23 327.08 638.57 325.81 639.9 324.6C641.23 323.38 642.57 322.2 643.9 321.06C645.23 319.92 646.57 318.84 647.9 317.76C649.23 316.67 650.57 315.62 651.9 314.55C653.23 313.48 654.57 312.42 655.9 311.37C657.23 310.31 658.57 309.26 659.9 308.2C661.23 307.15 662.57 306.08 663.9 305.05C665.23 304.01 666.57 302.98 667.9 301.98C669.23 300.97 670.57 299.97 671.9 299C673.23 298.02 674.57 297.06 675.9 296.11C677.23 295.16 678.57 294.23 679.9 293.31C681.23 292.39 682.57 291.51 683.9 290.6C685.23 289.7 686.57 288.8 687.9 287.9C689.23 286.99 690.57 286.1 691.9 285.18C693.23 284.27 694.57 283.35 695.9 282.43C697.23 281.5 698.57 280.57 699.9 279.63C701.23 278.7 702.57 277.75 703.9 276.83C705.23 275.9 706.57 274.98 707.9 274.07C709.23 273.16 710.57 272.26 711.9 271.37C713.23 270.47 714.57 269.6 715.9 268.71C717.23 267.82 718.57 266.92 719.9 266.01C721.23 265.1 722.57 264.15 723.9 263.26C725.23 262.37 726.57 261.5 727.9 260.66C729.23 259.82 730.57 259.03 731.9 258.21C733.23 257.39 734.57 256.53 735.9 255.75C737.23 254.96 738.57 254.21 739.9 253.49C741.23 252.77 742.57 252.13 743.9 251.42C745.23 250.71 746.57 249.98 747.9 249.21C749.23 248.45 750.57 247.62 751.9 246.84C753.23 246.05 754.57 245.27 755.9 244.5C757.23 243.73 758.57 242.95 759.9 242.2C761.23 241.45 762.57 240.69 763.9 239.97C765.23 239.25 766.57 238.55 767.9 237.87C769.23 237.19 770.57 236.53 771.9 235.89C773.23 235.25 774.57 234.65 775.9 234.03C777.23 233.41 778.57 232.77 779.9 232.16C781.23 231.55 782.57 230.95 783.9 230.37C785.23 229.79 786.57 229.19 787.9 228.67C789.23 228.15 790.57 227.67 791.9 227.25C793.23 226.83 794.57 226.44 795.9 226.15C797.23 225.87 798.57 225.68 799.9 225.54C801.23 225.41 802.57 225.33 803.9 225.32C805.23 225.3 806.57 225.38 807.9 225.47C809.23 225.55 810.57 225.68 811.9 225.83C813.23 225.99 814.57 226.21 815.9 226.39C817.23 226.58 818.57 226.78 819.9 226.95C821.23 227.12 822.57 227.31 823.9 227.44C825.23 227.57 826.57 227.69 827.9 227.75C829.23 227.81 830.57 227.86 831.9 227.79C833.23 227.73 834.57 227.58 835.9 227.36C837.23 227.15 838.57 226.85 839.9 226.5C841.23 226.15 842.57 225.76 843.9 225.28C845.23 224.8 846.57 224.24 847.9 223.64C849.23 223.05 850.57 222.36 851.9 221.71C853.23 221.06 854.57 220.39 855.9 219.73C857.23 219.06 858.57 218.38 859.9 217.7C861.23 217.02 862.57 216.27 863.9 215.64C865.23 215.01 866.57 214.43 867.9 213.91C869.23 213.4 870.57 212.96 871.9 212.54C873.23 212.12 874.57 211.75 875.9 211.41C877.23 211.07 878.57 210.77 879.9 210.5C881.23 210.23 882.57 210.02 883.9 209.78C885.23 209.55 886.57 209.34 887.9 209.07C889.23 208.8 890.57 208.5 891.9 208.17C893.23 207.85 894.57 207.5 895.9 207.12C897.23 206.75 898.57 206.35 899.9 205.94C901.23 205.53 902.57 205.07 903.9 204.65C905.23 204.22 906.57 203.78 907.9 203.4C909.23 203.02 910.57 202.64 911.9 202.36C913.23 202.09 914.57 201.88 915.9 201.74C917.23 201.6 918.57 201.52 919.9 201.53C921.23 201.54 922.57 201.68 923.9 201.82C925.23 201.96 926.57 202.17 927.9 202.37C929.23 202.57 930.57 202.82 931.9 203.03C933.23 203.23 934.57 203.43 935.9 203.6C937.23 203.76 938.57 203.92 939.9 203.99C941.23 204.07 942.57 204.1 943.9 204.06C945.23 204.03 946.57 203.94 947.9 203.8C949.23 203.65 950.57 203.46 951.9 203.18C953.23 202.91 954.57 202.56 955.9 202.14C957.23 201.71 958.57 201.21 959.9 200.65C961.23 200.08 962.57 199.4 963.9 198.73C965.23 198.06 966.57 197.32 967.9 196.64C969.23 195.95 970.57 195.29 971.9 194.6C973.23 193.92 974.57 193.22 975.9 192.54C977.23 191.85 978.57 191.19 979.9 190.49C981.23 189.8 982.57 189.13 983.9 188.39C985.23 187.64 986.57 186.87 987.9 186.02C989.23 185.17 990.57 184.22 991.9 183.29C993.23 182.37 994.57 181.43 995.9 180.48C997.23 179.54 998.57 178.54 999.9 177.61C1001.23 176.68 1002.57 175.77 1003.9 174.9C1005.23 174.04 1006.57 173.18 1007.9 172.42C1009.23 171.65 1010.57 170.97 1011.9 170.34C1013.23 169.71 1014.57 169.13 1015.9 168.61C1017.23 168.09 1018.57 167.63 1019.9 167.21C1021.23 166.8 1022.57 166.44 1023.9 166.12C1025.23 165.81 1026.57 165.57 1027.9 165.32C1029.23 165.06 1030.57 164.82 1031.9 164.6C1033.23 164.38 1034.57 164.19 1035.9 164.01C1037.23 163.83 1038.57 163.68 1039.9 163.53C1041.23 163.38 1042.57 163.23 1043.9 163.1C1045.23 162.96 1046.57 162.83 1047.9 162.7C1049.23 162.58 1050.57 162.46 1051.9 162.35C1053.23 162.23 1054.57 162.11 1055.9 162C1057.23 161.89 1058.57 161.8 1059.9 161.69C1061.23 161.58 1062.57 161.47 1063.9 161.34C1065.23 161.21 1066.57 161.03 1067.9 160.9C1069.23 160.76 1070.57 160.63 1071.9 160.54C1073.23 160.46 1074.57 160.4 1075.9 160.39C1077.23 160.38 1078.57 160.39 1079.9 160.47C1081.23 160.54 1082.57 160.66 1083.9 160.85C1085.23 161.04 1086.57 161.3 1087.9 161.6C1089.23 161.9 1090.57 162.26 1091.9 162.64C1093.23 163.03 1094.57 163.46 1095.9 163.92C1097.23 164.37 1098.57 164.88 1099.9 165.38C1101.23 165.89 1102.57 166.42 1103.9 166.96C1105.23 167.5 1106.57 168.07 1107.9 168.62C1109.23 169.18 1110.57 169.74 1111.9 170.29C1113.23 170.83 1114.57 171.37 1115.9 171.91C1117.23 172.44 1118.57 172.97 1119.9 173.5C1121.23 174.03 1122.57 174.6 1123.9 175.11C1125.23 175.62 1126.57 176.11 1127.9 176.58C1129.23 177.04 1130.57 177.53 1131.9 177.9C1133.23 178.28 1134.57 178.53 1135.9 178.8C1137.23 179.07 1138.57 179.31 1139.9 179.52C1141.23 179.74 1142.57 179.89 1143.9 180.09C1145.23 180.3 1146.57 180.49 1147.9 180.75C1149.23 181.01 1150.57 181.25 1151.9 181.63C1153.23 182.01 1154.57 182.51 1155.9 183.03C1157.23 183.55 1158.57 184.12 1159.9 184.75C1161.23 185.39 1162.57 186.08 1163.9 186.84C1165.23 187.61 1166.57 188.45 1167.9 189.32C1169.23 190.19 1170.57 191.11 1171.9 192.06C1173.23 193 1174.57 193.99 1175.9 195C1177.23 196.01 1178.57 197.12 1179.9 198.1C1181.23 199.09 1182.57 199.94 1183.9 200.9C1185.23 201.86 1187 203.04 1187.9 203.84C1188.8 204.65 1189.08 205.42 1189.32 205.74" fill="none" stroke="#f23645" stroke-width="3" stroke-linejoin="round" stroke-linecap="round"/>
<path d="M10 384.61C10.67 384.84 12.67 385.43 14 385.98C15.33 386.53 16.67 387.15 18 387.91C19.33 388.66 20.67 389.58 22 390.51C23.33 391.43 24.67 392.52 26 393.47C27.33 394.41 28.67 395.33 30 396.18C31.33 397.02 32.67 397.93 34 398.51C35.33 399.09 36.67 399.4 38 399.63C39.33 399.87 40.67 399.94 42 399.9C43.33 399.87 44.67 399.57 46 399.41C47.33 399.26 48.67 398.96 50 398.96C51.33 398.96 52.67 399.11 54 399.4C55.33 399.68 56.67 400.14 58 400.69C59.33 401.23 60.67 402.14 62 402.65C63.33 403.15 64.67 403.52 66 403.72C67.33 403.92 68.67 403.93 70 403.83C71.33 403.74 72.67 403.39 74 403.17C75.33 402.95 76.67 402.73 78 402.53C79.33 402.32 80.67 402.12 82 401.95C83.33 401.77 84.67 401.64 86 401.49C87.33 401.34 88.67 401.23 90 401.04C91.33 400.85 92.67 400.66 94 400.35C95.33 400.04 96.67 399.67 98 399.17C99.33 398.68 100.67 397.98 102 397.39C103.33 396.8 104.67 396.1 106 395.63C107.33 395.16 108.67 394.81 110 394.58C111.33 394.35 112.67 394.33 114 394.24C115.33 394.15 116.67 394.16 118 394.04C119.33 393.92 120.67 393.69 122 393.52C123.33 393.35 124.67 393.13 126 393.02C127.33 392.91 128.67 392.85 130 392.87C131.33 392.89 132.67 393.01 134 393.14C135.33 393.26 136.67 393.45 138 393.6C139.33 393.75 140.67 393.96 142 394.03C143.33 394.09 144.67 394.06 146 393.98C147.33 393.89 148.67 393.8 150 393.52C151.33 393.23 152.67 392.76 154 392.25C155.33 391.74 156.67 391.14 158 390.46C159.33 389.78 160.67 388.94 162 388.2C163.33 387.46 164.67 386.61 166 386C167.33 385.39 168.67 384.85 170 384.53C171.33 384.2 172.67 384.05 174 384.03C175.33 384.01 176.67 384.27 178 384.41C179.33 384.55 180.67 384.75 182 384.87C183.33 385 184.67 385.09 186 385.15C187.33 385.21 188.67 385.1 190 385.23C191.33 385.37 192.67 385.46 194 385.94C195.33 386.42 196.67 387.21 198 388.13C199.33 389.05 200.67 390.26 202 391.43C203.33 392.6 204.67 393.99 206 395.14C207.33 396.29 208.67 397.29 210 398.32C211.33 399.35 212.67 400.36 214 401.31C215.33 402.25 216.67 403.09 218 404C219.33 404.91 220.67 405.73 222 406.75C223.33 407.77 224.67 408.85 226 410.1C227.33 411.34 228.67 412.76 230 414.22C231.33 415.68 232.67 417.31 234 418.88C235.33 420.44 236.67 422.05 238 423.61C239.33 425.16 240.67 426.71 242 428.2C243.33 429.69 244.67 431.07 246 432.54C247.33 434.01 248.67 435.43 250 436.99C251.33 438.56 252.67 440.25 254 441.92C255.33 443.59 256.67 445.35 258 447C259.33 448.64 260.67 450.36 262 451.81C263.33 453.26 264.67 454.49 266 455.68C267.33 456.88 268.67 457.92 270 458.96C271.33 459.99 272.67 460.91 274 461.9C275.33 462.89 276.67 464.01 278 464.9C279.33 465.8 280.67 466.64 282 467.29C283.33 467.94 284.67 468.45 286 468.8C287.33 469.14 288.67 469.21 290 469.37C291.33 469.52 292.67 469.65 294 469.72C295.33 469.78 296.67 469.77 298 469.76C299.33 469.76 300.67 469.72 302 469.69C303.33 469.66 304.67 469.57 306 469.57C307.33 469.57 308.67 469.57 310 469.68C311.33 469.79 312.67 469.96 314 470.24C315.33 470.51 316.67 470.87 318 471.33C319.33 471.79 320.67 472.39 322 473C323.33 473.62 324.67 474.32 326 475.02C327.33 475.72 328.67 476.49 330 477.2C331.33 477.91 332.67 478.61 334 479.29C335.33 479.96 336.67 480.61 338 481.27C339.33 481.94 340.67 482.58 342 483.26C343.33 483.94 344.67 484.64 346 485.35C347.33 486.06 348.67 486.8 350 487.54C351.33 488.27 352.67 489.03 354 489.78C355.33 490.54 356.67 491.32 358 492.06C359.33 492.81 360.67 493.67 362 494.26C363.33 494.84 364.67 495.4 366 495.57C367.33 495.74 368.67 495.65 370 495.3C371.33 494.95 372.67 494.17 374 493.49C375.33 492.81 376.67 491.92 378 491.2C379.33 490.48 380.67 489.76 382 489.16C383.33 488.55 384.67 488.08 386 487.58C387.33 487.09 388.67 486.65 390 486.21C391.33 485.76 392.67 485.45 394 484.9C395.33 484.35 396.67 483.68 398 482.91C399.33 482.13 400.67 481.19 402 480.23C403.33 479.27 404.67 478.14 406 477.14C407.33 476.15 408.67 475.21 410 474.27C411.33 473.32 412.67 472.42 414 471.47C415.33 470.53 416.67 469.54 418 468.6C419.33 467.66 420.67 466.68 422 465.83C423.33 464.97 424.67 464.14 426 463.45C427.33 462.77 428.67 462.22 430 461.72C431.33 461.22 432.67 460.83 434 460.46C435.33 460.08 436.67 459.83 438 459.46C439.33 459.08 440.67 458.73 442 458.22C443.33 457.72 444.67 457.13 446 456.44C447.33 455.76 448.67 454.94 450 454.11C451.33 453.28 452.67 452.32 454 451.45C455.33 450.59 456.67 449.74 458 448.94C459.33 448.14 460.67 447.38 462 446.64C463.33 445.9 464.67 445.21 466 444.49C467.33 443.77 468.67 443.11 470 442.31C471.33 441.51 472.67 440.65 474 439.69C475.33 438.73 476.67 437.7 478 436.55C479.33 435.41 480.67 434.12 482 432.83C483.33 431.55 484.67 430.19 486 428.83C487.33 427.48 488.67 426.09 490 424.72C491.33 423.34 492.67 421.96 494 420.59C495.33 419.21 496.67 417.84 498 416.46C499.33 415.09 500.67 413.71 502 412.33C503.33 410.96 504.67 409.58 506 408.21C507.33 406.83 508.67 405.38 510 404.08C511.33 402.78 512.67 401.56 514 400.42C515.33 399.27 516.67 398.22 518 397.21C519.33 396.2 520.67 395.34 522 394.37C523.33 393.41 524.67 392.52 526 391.41C527.33 390.31 528.67 389.22 530 387.72C531.33 386.22 532.67 384.43 534 382.41C535.33 380.39 536.67 378.06 538 375.62C539.33 373.17 540.67 370.43 542 367.75C543.33 365.07 544.67 362.26 546 359.52C547.33 356.78 548.67 353.92 550 351.31C551.33 348.69 552.67 346.06 554 343.82C555.33 341.59 556.67 339.57 558 337.88C559.33 336.19 560.67 334.88 562 333.7C563.33 332.52 564.67 331.72 566 330.8C567.33 329.89 568.67 329.19 570 328.21C571.33 327.24 572.67 326.13 574 324.94C575.33 323.75 576.67 322.39 578 321.07C579.33 319.75 580.67 318.27 582 317.03C583.33 315.8 584.67 314.65 586 313.67C587.33 312.69 588.67 311.87 590 311.16C591.33 310.44 592.67 309.94 594 309.37C595.33 308.79 596.67 308.55 598 307.71C599.33 306.87 600.67 305.77 602 304.35C603.33 302.93 604.67 301.18 606 299.19C607.33 297.19 608.67 294.65 610 292.38C611.33 290.12 612.67 287.78 614 285.6C615.33 283.42 616.67 281.28 618 279.29C619.33 277.31 620.67 275.43 622 273.67C623.33 271.91 624.67 270.23 626 268.74C627.33 267.25 628.67 265.94 630 264.74C631.33 263.54 632.67 262.31 634 261.54C635.33 260.76 636.67 260.33 638 260.09C639.33 259.85 640.67 259.79 642 260.08C643.33 260.38 644.67 261.2 646 261.86C647.33 262.51 648.67 263.36 650 264.02C651.33 264.68 652.67 265.37 654 265.8C655.33 266.22 656.67 266.42 658 266.56C659.33 266.69 660.67 266.61 662 266.6C663.33 266.6 664.67 266.59 666 266.53C667.33 266.47 668.67 266.39 670 266.26C671.33 266.12 672.67 265.94 674 265.71C675.33 265.49 676.67 265.2 678 264.91C679.33 264.61 680.67 264.27 682 263.94C683.33 263.61 684.67 263.27 686 262.93C687.33 262.59 688.67 262.25 690 261.89C691.33 261.53 692.67 261.15 694 260.75C695.33 260.35 696.67 259.94 698 259.5C699.33 259.06 700.67 258.56 702 258.13C703.33 257.69 704.67 257.26 706 256.87C707.33 256.48 708.67 256.15 710 255.8C711.33 255.46 712.67 255.16 714 254.81C715.33 254.46 716.67 254.4 718 253.71C719.33 253.01 720.67 252.02 722 250.66C723.33 249.3 724.67 247.68 726 245.56C727.33 243.44 728.67 240.51 730 237.95C731.33 235.39 732.67 232.67 734 230.19C735.33 227.71 736.67 225.19 738 223.07C739.33 220.95 740.67 219.16 742 217.48C743.33 215.79 744.67 214.25 746 212.98C747.33 211.71 748.67 210.74 750 209.85C751.33 208.97 752.67 208.26 754 207.67C755.33 207.08 756.67 206.77 758 206.32C759.33 205.86 760.67 205.42 762 204.95C763.33 204.48 764.67 203.96 766 203.51C767.33 203.06 768.67 202.56 770 202.25C771.33 201.94 772.67 201.73 774 201.64C775.33 201.54 776.67 201.61 778 201.67C779.33 201.74 780.67 201.93 782 202.02C783.33 202.11 784.67 202.17 786 202.24C787.33 202.3 788.67 202.35 790 202.42C791.33 202.49 792.67 202.52 794 202.65C795.33 202.79 796.67 202.95 798 203.22C799.33 203.48 800.67 203.66 802 204.22C803.33 204.79 804.67 205.56 806 206.61C807.33 207.67 808.67 209.08 810 210.55C811.33 212.03 812.67 213.84 814 215.44C815.33 217.04 816.67 218.75 818 220.13C819.33 221.52 820.67 222.65 822 223.73C823.33 224.82 824.67 225.9 826 226.64C827.33 227.38 828.67 227.83 830 228.18C831.33 228.54 832.67 228.86 834 228.76C835.33 228.66 836.67 228.15 838 227.59C839.33 227.04 840.67 226.27 842 225.42C843.33 224.57 844.67 223.48 846 222.5C847.33 221.53 848.67 220.62 850 219.55C851.33 218.49 852.67 217.31 854 216.11C855.33 214.92 856.67 213.65 858 212.38C859.33 211.12 860.67 209.68 862 208.55C863.33 207.42 864.67 206.44 866 205.61C867.33 204.78 868.67 204 870 203.57C871.33 203.15 872.67 203.05 874 203.06C875.33 203.08 876.67 203.34 878 203.67C879.33 204.01 880.67 204.64 882 205.05C883.33 205.46 884.67 205.94 886 206.14C887.33 206.33 888.67 206.38 890 206.24C891.33 206.1 892.67 205.73 894 205.3C895.33 204.86 896.67 204.22 898 203.63C899.33 203.04 900.67 202.43 902 201.76C903.33 201.1 904.67 200.31 906 199.64C907.33 198.96 908.67 198.26 910 197.69C911.33 197.13 912.67 196.57 914 196.24C915.33 195.92 916.67 195.78 918 195.74C919.33 195.7 920.67 195.9 922 196C923.33 196.1 924.67 196.31 926 196.34C927.33 196.36 928.67 196.33 930 196.14C931.33 195.94 932.67 195.53 934 195.16C935.33 194.78 936.67 194.32 938 193.9C939.33 193.48 940.67 193.04 942 192.61C943.33 192.19 944.67 191.75 946 191.34C947.33 190.92 948.67 190.85 950 190.14C951.33 189.42 952.67 188.42 954 187.06C955.33 185.71 956.67 184.06 958 181.99C959.33 179.91 960.67 177.13 962 174.63C963.33 172.13 964.67 169.52 966 166.98C967.33 164.44 968.67 161.81 970 159.39C971.33 156.97 972.67 154.55 974 152.46C975.33 150.37 976.67 148.57 978 146.84C979.33 145.1 980.67 143.64 982 142.05C983.33 140.46 984.67 138.95 986 137.3C987.33 135.64 988.67 133.83 990 132.13C991.33 130.42 992.67 128.62 994 127.08C995.33 125.55 996.67 124.01 998 122.92C999.33 121.83 1000.67 120.87 1002 120.54C1003.33 120.21 1004.67 120.28 1006 120.92C1007.33 121.57 1008.67 122.88 1010 124.4C1011.33 125.92 1012.67 127.99 1014 130.06C1015.33 132.13 1016.67 134.62 1018 136.82C1019.33 139.02 1020.67 141.29 1022 143.27C1023.33 145.25 1024.67 147.14 1026 148.69C1027.33 150.23 1028.67 151.43 1030 152.54C1031.33 153.65 1032.67 154.48 1034 155.36C1035.33 156.25 1036.67 157.19 1038 157.88C1039.33 158.56 1040.67 159.1 1042 159.47C1043.33 159.84 1044.67 160.07 1046 160.08C1047.33 160.09 1048.67 159.75 1050 159.52C1051.33 159.3 1052.67 158.93 1054 158.75C1055.33 158.57 1056.67 158.46 1058 158.44C1059.33 158.42 1060.67 158.37 1062 158.64C1063.33 158.9 1064.67 159.42 1066 160.04C1067.33 160.65 1068.67 161.29 1070 162.31C1071.33 163.33 1072.67 164.63 1074 166.17C1075.33 167.7 1076.67 169.53 1078 171.52C1079.33 173.51 1080.67 175.98 1082 178.09C1083.33 180.2 1084.67 182.32 1086 184.17C1087.33 186.02 1088.67 187.55 1090 189.2C1091.33 190.86 1092.67 192.32 1094 194.1C1095.33 195.88 1096.67 197.8 1098 199.86C1099.33 201.93 1100.67 204.32 1102 206.5C1103.33 208.68 1104.67 210.92 1106 212.96C1107.33 215 1108.67 216.93 1110 218.72C1111.33 220.52 1112.67 222.12 1114 223.73C1115.33 225.33 1116.67 226.86 1118 228.33C1119.33 229.81 1120.67 231.35 1122 232.57C1123.33 233.8 1124.67 234.92 1126 235.68C1127.33 236.45 1128.67 236.91 1130 237.16C1131.33 237.4 1132.67 237.47 1134 237.17C1135.33 236.87 1136.67 236.36 1138 235.36C1139.33 234.35 1140.67 232.82 1142 231.11C1143.33 229.41 1144.67 227.2 1146 225.11C1147.33 223.03 1148.67 220.49 1150 218.62C1151.33 216.75 1152.67 215.21 1154 213.9C1155.33 212.58 1156.67 211.46 1158 210.73C1159.33 210 1160.67 209.78 1162 209.5C1163.33 209.23 1164.67 208.99 1166 209.06C1167.33 209.12 1168.67 209.47 1170 209.9C1171.33 210.32 1172.67 210.88 1174 211.6C1175.33 212.31 1176.67 213.3 1178 214.2C1179.33 215.1 1180.67 216.11 1182 216.99C1183.33 217.87 1184.78 218.71 1186 219.48C1187.22 220.24 1188.77 221.23 1189.32 221.58" fill="none" stroke="#2962ff" stroke-width="3" stroke-linejoin="round" stroke-linecap="round"/>
<g shape-rendering="crispEdges">
<rect x="11" y="369" width="1" height="24" fill="#26a69a"/><rect x="10" y="380" width="3" height="8" fill="#26a69a"/>
<rect x="15" y="369" width="1" height="34" fill="#ef5350"/><rect x="14" y="380" width="3" height="17" fill="#ef5350"/>
<rect x="19" y="391" width="1" height="37" fill="#ef5350"/><rect x="18" y="396" width="3" height="10" fill="#ef5350"/>
<rect x="23" y="391" width="1" height="53" fill="#ef5350"/><rect x="22" y="405" width="3" height="23" fill="#ef5350"/>
<rect x="27" y="405" width="1" height="27" fill="#26a69a"/><rect x="26" y="423" width="3" height="5" fill="#26a69a"/>
<rect x="30" y="417" width="1" height="16" fill="#26a69a"/><rect x="29" y="421" width="3" height="3" fill="#26a69a"/>
<rect x="34" y="410" width="1" height="20" fill="#26a69a"/><rect x="33" y="418" width="3" height="4" fill="#26a69a"/>
<rect x="38" y="398" width="1" height="42" fill="#26a69a"/><rect x="37" y="414" width="3" height="6" fill="#26a69a"/>
<rect x="42" y="395" width="1" height="23" fill="#26a69a"/><rect x="41" y="399" width="3" height="16" fill="#26a69a"/>
<rect x="46" y="387" width="1" height="23" fill="#26a69a"/><rect x="45" y="388" width="3" height="14" fill="#26a69a"/>
<rect x="50" y="387" width="1" height="13" fill="#ef5350"/><rect x="49" y="388" width="3" height="9" fill="#ef5350"/>
<rect x="54" y="390" width="1" height="17" fill="#ef5350"/><rect x="53" y="396" width="3" height="5" fill="#ef5350"/>
<rect x="57" y="400" width="1" height="37" fill="#ef5350"/><rect x="56" y="400" width="3" height="12" fill="#ef5350"/>
<rect x="61" y="393" width="1" height="43" fill="#ef5350"/><rect x="60" y="411" width="3" height="16" fill="#ef5350"/>
<rect x="65" y="404" width="1" height="32" fill="#26a69a"/><rect x="64" y="424" width="3" height="2" fill="#26a69a"/>
<rect x="69" y="381" width="1" height="48" fill="#26a69a"/><rect x="68" y="399" width="3" height="26" fill="#26a69a"/>
<rect x="73" y="362" width="1" height="40" fill="#26a69a"/><rect x="72" y="388" width="3" height="12" fill="#26a69a"/>
<rect x="77" y="379" width="1" height="36" fill="#ef5350"/><rect x="76" y="388" width="3" height="24" fill="#ef5350"/>
<rect x="81" y="382" width="1" height="37" fill="#26a69a"/><rect x="80" y="400" width="3" height="12" fill="#26a69a"/>
<rect x="84" y="392" width="1" height="21" fill="#26a69a"/><rect x="83" y="398" width="3" height="2" fill="#26a69a"/>
<rect x="88" y="383" width="1" height="27" fill="#ef5350"/><rect x="87" y="399" width="3" height="11" fill="#ef5350"/>
<rect x="92" y="396" width="1" height="32" fill="#26a69a"/><rect x="91" y="397" width="3" height="13" fill="#26a69a"/>
<rect x="96" y="385" width="1" height="30" fill="#ef5350"/><rect x="95" y="397" width="3" height="12" fill="#ef5350"/>
<rect x="100" y="387" width="1" height="24" fill="#26a69a"/><rect x="99" y="394" width="3" height="15" fill="#26a69a"/>
<rect x="104" y="353" width="1" height="43" fill="#26a69a"/><rect x="103" y="360" width="3" height="35" fill="#26a69a"/>
<rect x="108" y="349" width="1" height="26" fill="#ef5350"/><rect x="107" y="360" width="3" height="4" fill="#ef5350"/>
<rect x="111" y="355" width="1" height="47" fill="#ef5350"/><rect x="110" y="363" width="3" height="37" fill="#ef5350"/>
<rect x="115" y="388" width="1" height="36" fill="#ef5350"/><rect x="114" y="399" width="3" height="9" fill="#ef5350"/>
<rect x="119" y="363" width="1" height="68" fill="#26a69a"/><rect x="118" y="380" width="3" height="28" fill="#26a69a"/>
<rect x="123" y="363" width="1" height="30" fill="#ef5350"/><rect x="122" y="380" width="3" height="1" fill="#ef5350"/>
<rect x="127" y="359" width="1" height="30" fill="#ef5350"/><rect x="126" y="380" width="3" height="6" fill="#ef5350"/>
<rect x="131" y="370" width="1" height="24" fill="#ef5350"/><rect x="130" y="384" width="3" height="9" fill="#ef5350"/>
<rect x="135" y="380" width="1" height="29" fill="#ef5350"/><rect x="134" y="392" width="3" height="11" fill="#ef5350"/>
<rect x="139" y="392" width="1" height="16" fill="#26a69a"/><rect x="138" y="397" width="3" height="6" fill="#26a69a"/>
<rect x="142" y="391" width="1" height="18" fill="#ef5350"/><rect x="141" y="396" width="3" height="6" fill="#ef5350"/>
<rect x="146" y="388" width="1" height="20" fill="#26a69a"/><rect x="145" y="397" width="3" height="5" fill="#26a69a"/>
<rect x="150" y="377" width="1" height="24" fill="#26a69a"/><rect x="149" y="394" width="3" height="4" fill="#26a69a"/>
<rect x="154" y="374" width="1" height="31" fill="#26a69a"/><rect x="153" y="374" width="3" height="22" fill="#26a69a"/>
<rect x="158" y="369" width="1" height="16" fill="#26a69a"/><rect x="157" y="369" width="3" height="6" fill="#26a69a"/>
<rect x="162" y="349" width="1" height="25" fill="#ef5350"/><rect x="161" y="369" width="3" height="1" fill="#ef5350"/>
<rect x="166" y="364" width="1" height="14" fill="#ef5350"/><rect x="165" y="370" width="3" height="6" fill="#ef5350"/>
<rect x="169" y="363" width="1" height="13" fill="#26a69a"/><rect x="168" y="364" width="3" height="12" fill="#26a69a"/>
<rect x="173" y="363" width="1" height="20" fill="#ef5350"/><rect x="172" y="364" width="3" height="15" fill="#ef5350"/>
<rect x="177" y="356" width="1" height="51" fill="#ef5350"/><rect x="176" y="378" width="3" height="13" fill="#ef5350"/>
<rect x="181" y="386" width="1" height="19" fill="#ef5350"/><rect x="180" y="390" width="3" height="1" fill="#ef5350"/>
<rect x="185" y="373" width="1" height="19" fill="#26a69a"/><rect x="184" y="385" width="3" height="7" fill="#26a69a"/>
<rect x="189" y="373" width="1" height="21" fill="#26a69a"/><rect x="188" y="382" width="3" height="5" fill="#26a69a"/>
<rect x="193" y="380" width="1" height="9" fill="#ef5350"/><rect x="192" y="382" width="3" height="2" fill="#ef5350"/>
<rect x="196" y="383" width="1" height="21" fill="#ef5350"/><rect x="195" y="383" width="3" height="17" fill="#ef5350"/>
<rect x="200" y="396" width="1" height="35" fill="#ef5350"/><rect x="199" y="399" width="3" height="32" fill="#ef5350"/>
<rect x="204" y="421" width="1" height="36" fill="#26a69a"/><rect x="203" y="427" width="3" height="4" fill="#26a69a"/>
<rect x="208" y="415" width="1" height="29" fill="#ef5350"/><rect x="207" y="427" width="3" height="7" fill="#ef5350"/>
<rect x="212" y="417" width="1" height="17" fill="#26a69a"/><rect x="211" y="420" width="3" height="14" fill="#26a69a"/>
<rect x="216" y="420" width="1" height="23" fill="#ef5350"/><rect x="215" y="420" width="3" height="11" fill="#ef5350"/>
<rect x="220" y="424" width="1" height="17" fill="#ef5350"/><rect x="219" y="430" width="3" height="4" fill="#ef5350"/>
<rect x="224" y="420" width="1" height="26" fill="#26a69a"/><rect x="223" y="424" width="3" height="10" fill="#26a69a"/>
<rect x="227" y="419" width="1" height="35" fill="#ef5350"/><rect x="226" y="424" width="3" height="26" fill="#ef5350"/>
<rect x="231" y="447" width="1" height="26" fill="#ef5350"/><rect x="230" y="449" width="3" height="9" fill="#ef5350"/>
<rect x="235" y="449" width="1" height="16" fill="#26a69a"/><rect x="234" y="456" width="3" height="1" fill="#26a69a"/>
<rect x="239" y="452" width="1" height="25" fill="#ef5350"/><rect x="238" y="456" width="3" height="18" fill="#ef5350"/>
<rect x="243" y="463" width="1" height="18" fill="#ef5350"/><rect x="242" y="473" width="3" height="4" fill="#ef5350"/>
<rect x="247" y="467" width="1" height="10" fill="#ef5350"/><rect x="246" y="476" width="3" height="1" fill="#ef5350"/>
<rect x="251" y="472" width="1" height="13" fill="#ef5350"/><rect x="250" y="476" width="3" height="7" fill="#ef5350"/>
<rect x="254" y="473" width="1" height="21" fill="#ef5350"/><rect x="253" y="482" width="3" height="11" fill="#ef5350"/>
<rect x="258" y="479" width="1" height="18" fill="#26a69a"/><rect x="257" y="489" width="3" height="4" fill="#26a69a"/>
<rect x="262" y="484" width="1" height="18" fill="#ef5350"/><rect x="261" y="489" width="3" height="7" fill="#ef5350"/>
<rect x="266" y="490" width="1" height="15" fill="#ef5350"/><rect x="265" y="495" width="3" height="8" fill="#ef5350"/>
<rect x="270" y="482" width="1" height="21" fill="#26a69a"/><rect x="269" y="489" width="3" height="14" fill="#26a69a"/>
<rect x="274" y="479" width="1" height="11" fill="#26a69a"/><rect x="273" y="483" width="3" height="7" fill="#26a69a"/>
<rect x="278" y="483" width="1" height="15" fill="#ef5350"/><rect x="277" y="483" width="3" height="14" fill="#ef5350"/>
<rect x="281" y="486" width="1" height="11" fill="#26a69a"/><rect x="280" y="494" width="3" height="3" fill="#26a69a"/>
<rect x="285" y="483" width="1" height="14" fill="#26a69a"/><rect x="284" y="485" width="3" height="10" fill="#26a69a"/>
<rect x="289" y="470" width="1" height="19" fill="#26a69a"/><rect x="288" y="471" width="3" height="15" fill="#26a69a"/>
<rect x="293" y="469" width="1" height="18" fill="#ef5350"/><rect x="292" y="471" width="3" height="15" fill="#ef5350"/>
<rect x="297" y="468" width="1" height="20" fill="#26a69a"/><rect x="296" y="468" width="3" height="18" fill="#26a69a"/>
<rect x="301" y="460" width="1" height="13" fill="#ef5350"/><rect x="300" y="468" width="3" height="5" fill="#ef5350"/>
<rect x="305" y="463" width="1" height="10" fill="#26a69a"/><rect x="304" y="465" width="3" height="8" fill="#26a69a"/>
<rect x="308" y="455" width="1" height="14" fill="#26a69a"/><rect x="307" y="460" width="3" height="8" fill="#26a69a"/>
<rect x="312" y="458" width="1" height="11" fill="#ef5350"/><rect x="311" y="460" width="3" height="9" fill="#ef5350"/>
<rect x="316" y="464" width="1" height="38" fill="#ef5350"/><rect x="315" y="467" width="3" height="20" fill="#ef5350"/>
<rect x="320" y="476" width="1" height="11" fill="#26a69a"/><rect x="319" y="481" width="3" height="6" fill="#26a69a"/>
<rect x="324" y="478" width="1" height="18" fill="#ef5350"/><rect x="323" y="481" width="3" height="12" fill="#ef5350"/>
<rect x="328" y="490" width="1" height="12" fill="#ef5350"/><rect x="327" y="492" width="3" height="7" fill="#ef5350"/>
<rect x="332" y="496" width="1" height="8" fill="#ef5350"/><rect x="331" y="498" width="3" height="4" fill="#ef5350"/>
<rect x="336" y="491" width="1" height="13" fill="#26a69a"/><rect x="335" y="496" width="3" height="6" fill="#26a69a"/>
<rect x="339" y="487" width="1" height="10" fill="#26a69a"/><rect x="338" y="493" width="3" height="4" fill="#26a69a"/>
<rect x="343" y="482" width="1" height="27" fill="#ef5350"/><rect x="342" y="493" width="3" height="16" fill="#ef5350"/>
<rect x="347" y="500" width="1" height="15" fill="#ef5350"/><rect x="346" y="508" width="3" height="1" fill="#ef5350"/>
<rect x="351" y="502" width="1" height="13" fill="#26a69a"/><rect x="350" y="507" width="3" height="2" fill="#26a69a"/>
<rect x="355" y="504" width="1" height="7" fill="#26a69a"/><rect x="354" y="505" width="3" height="3" fill="#26a69a"/>
<rect x="359" y="505" width="1" height="20" fill="#ef5350"/><rect x="358" y="505" width="3" height="18" fill="#ef5350"/>
<rect x="363" y="506" width="1" height="24" fill="#26a69a"/><rect x="362" y="511" width="3" height="12" fill="#26a69a"/>
<rect x="366" y="500" width="1" height="18" fill="#ef5350"/><rect x="365" y="510" width="3" height="4" fill="#ef5350"/>
<rect x="370" y="482" width="1" height="32" fill="#26a69a"/><rect x="369" y="491" width="3" height="23" fill="#26a69a"/>
<rect x="374" y="481" width="1" height="14" fill="#26a69a"/><rect x="373" y="485" width="3" height="7" fill="#26a69a"/>
<rect x="378" y="467" width="1" height="22" fill="#26a69a"/><rect x="377" y="470" width="3" height="16" fill="#26a69a"/>
<rect x="382" y="460" width="1" height="16" fill="#26a69a"/><rect x="381" y="464" width="3" height="7" fill="#26a69a"/>
<rect x="386" y="459" width="1" height="17" fill="#ef5350"/><rect x="385" y="464" width="3" height="10" fill="#ef5350"/>
<rect x="390" y="464" width="1" height="10" fill="#26a69a"/><rect x="389" y="470" width="3" height="4" fill="#26a69a"/>
<rect x="393" y="460" width="1" height="17" fill="#ef5350"/><rect x="392" y="470" width="3" height="7" fill="#ef5350"/>
<rect x="397" y="465" width="1" height="15" fill="#26a69a"/><rect x="396" y="469" width="3" height="8" fill="#26a69a"/>
<rect x="401" y="455" width="1" height="17" fill="#26a69a"/><rect x="400" y="456" width="3" height="14" fill="#26a69a"/>
<rect x="405" y="454" width="1" height="10" fill="#ef5350"/><rect x="404" y="456" width="3" height="1" fill="#ef5350"/>
<rect x="409" y="446" width="1" height="15" fill="#26a69a"/><rect x="408" y="447" width="3" height="11" fill="#26a69a"/>
<rect x="413" y="443" width="1" height="13" fill="#ef5350"/><rect x="412" y="447" width="3" height="6" fill="#ef5350"/>
<rect x="417" y="444" width="1" height="12" fill="#26a69a"/><rect x="416" y="446" width="3" height="7" fill="#26a69a"/>
<rect x="421" y="435" width="1" height="15" fill="#26a69a"/><rect x="420" y="437" width="3" height="10" fill="#26a69a"/>
<rect x="424" y="436" width="1" height="12" fill="#ef5350"/><rect x="423" y="437" width="3" height="8" fill="#ef5350"/>
<rect x="428" y="439" width="1" height="12" fill="#26a69a"/><rect x="427" y="441" width="3" height="4" fill="#26a69a"/>
<rect x="432" y="437" width="1" height="10" fill="#ef5350"/><rect x="431" y="441" width="3" height="5" fill="#ef5350"/>
<rect x="436" y="444" width="1" height="10" fill="#ef5350"/><rect x="435" y="445" width="3" height="5" fill="#ef5350"/>
<rect x="440" y="446" width="1" height="10" fill="#ef5350"/><rect x="439" y="449" width="3" height="6" fill="#ef5350"/>
<rect x="444" y="441" width="1" height="18" fill="#26a69a"/><rect x="443" y="442" width="3" height="13" fill="#26a69a"/>
<rect x="448" y="437" width="1" height="10" fill="#ef5350"/><rect x="447" y="442" width="3" height="1" fill="#ef5350"/>
<rect x="451" y="428" width="1" height="24" fill="#26a69a"/><rect x="450" y="429" width="3" height="15" fill="#26a69a"/>
<rect x="455" y="418" width="1" height="20" fill="#ef5350"/><rect x="454" y="429" width="3" height="1" fill="#ef5350"/>
<rect x="459" y="415" width="1" height="16" fill="#26a69a"/><rect x="458" y="422" width="3" height="9" fill="#26a69a"/>
<rect x="463" y="415" width="1" height="14" fill="#26a69a"/><rect x="462" y="420" width="3" height="3" fill="#26a69a"/>
<rect x="467" y="418" width="1" height="14" fill="#ef5350"/><rect x="466" y="420" width="3" height="11" fill="#ef5350"/>
<rect x="471" y="422" width="1" height="10" fill="#26a69a"/><rect x="470" y="427" width="3" height="4" fill="#26a69a"/>
<rect x="475" y="418" width="1" height="16" fill="#26a69a"/><rect x="474" y="420" width="3" height="8" fill="#26a69a"/>
<rect x="478" y="415" width="1" height="8" fill="#26a69a"/><rect x="477" y="419" width="3" height="1" fill="#26a69a"/>
<rect x="482" y="395" width="1" height="26" fill="#26a69a"/><rect x="481" y="398" width="3" height="22" fill="#26a69a"/>
<rect x="486" y="374" width="1" height="27" fill="#26a69a"/><rect x="485" y="385" width="3" height="14" fill="#26a69a"/>
<rect x="490" y="369" width="1" height="18" fill="#26a69a"/><rect x="489" y="370" width="3" height="15" fill="#26a69a"/>
<rect x="494" y="367" width="1" height="27" fill="#ef5350"/><rect x="493" y="370" width="3" height="14" fill="#ef5350"/>
<rect x="498" y="374" width="1" height="24" fill="#ef5350"/><rect x="497" y="383" width="3" height="1" fill="#ef5350"/>
<rect x="502" y="368" width="1" height="28" fill="#26a69a"/><rect x="501" y="374" width="3" height="10" fill="#26a69a"/>
<rect x="506" y="370" width="1" height="15" fill="#ef5350"/><rect x="505" y="374" width="3" height="6" fill="#ef5350"/>
<rect x="509" y="370" width="1" height="17" fill="#26a69a"/><rect x="508" y="370" width="3" height="11" fill="#26a69a"/>
<rect x="513" y="351" width="1" height="23" fill="#26a69a"/><rect x="512" y="364" width="3" height="7" fill="#26a69a"/>
<rect x="517" y="344" width="1" height="31" fill="#ef5350"/><rect x="516" y="364" width="3" height="10" fill="#ef5350"/>
<rect x="521" y="360" width="1" height="14" fill="#26a69a"/><rect x="520" y="361" width="3" height="13" fill="#26a69a"/>
<rect x="525" y="359" width="1" height="22" fill="#ef5350"/><rect x="524" y="361" width="3" height="7" fill="#ef5350"/>
<rect x="529" y="363" width="1" height="14" fill="#26a69a"/><rect x="528" y="366" width="3" height="2" fill="#26a69a"/>
<rect x="533" y="345" width="1" height="26" fill="#26a69a"/><rect x="532" y="350" width="3" height="18" fill="#26a69a"/>
<rect x="536" y="295" width="1" height="55" fill="#26a69a"/><rect x="535" y="302" width="3" height="48" fill="#26a69a"/>
<rect x="540" y="262" width="1" height="50" fill="#ef5350"/><rect x="539" y="302" width="3" height="4" fill="#ef5350"/>
<rect x="544" y="272" width="1" height="41" fill="#26a69a"/><rect x="543" y="288" width="3" height="18" fill="#26a69a"/>
<rect x="548" y="244" width="1" height="55" fill="#26a69a"/><rect x="547" y="248" width="3" height="41" fill="#26a69a"/>
<rect x="552" y="239" width="1" height="33" fill="#ef5350"/><rect x="551" y="248" width="3" height="19" fill="#ef5350"/>
<rect x="556" y="250" width="1" height="31" fill="#ef5350"/><rect x="555" y="266" width="3" height="14" fill="#ef5350"/>
<rect x="560" y="273" width="1" height="37" fill="#ef5350"/><rect x="559" y="279" width="3" height="15" fill="#ef5350"/>
<rect x="563" y="285" width="1" height="37" fill="#ef5350"/><rect x="562" y="293" width="3" height="29" fill="#ef5350"/>
<rect x="567" y="293" width="1" height="35" fill="#26a69a"/><rect x="566" y="307" width="3" height="15" fill="#26a69a"/>
<rect x="571" y="299" width="1" height="28" fill="#ef5350"/><rect x="570" y="307" width="3" height="2" fill="#ef5350"/>
<rect x="575" y="293" width="1" height="27" fill="#26a69a"/><rect x="574" y="294" width="3" height="14" fill="#26a69a"/>
<rect x="579" y="271" width="1" height="40" fill="#26a69a"/><rect x="578" y="273" width="3" height="22" fill="#26a69a"/>
<rect x="583" y="256" width="1" height="23" fill="#ef5350"/><rect x="582" y="272" width="3" height="6" fill="#ef5350"/>
<rect x="587" y="265" width="1" height="26" fill="#ef5350"/><rect x="586" y="277" width="3" height="4" fill="#ef5350"/>
<rect x="590" y="273" width="1" height="36" fill="#ef5350"/><rect x="589" y="281" width="3" height="16" fill="#ef5350"/>
<rect x="594" y="281" width="1" height="24" fill="#ef5350"/><rect x="593" y="296" width="3" height="6" fill="#ef5350"/>
<rect x="598" y="285" width="1" height="20" fill="#26a69a"/><rect x="597" y="287" width="3" height="16" fill="#26a69a"/>
<rect x="602" y="274" width="1" height="17" fill="#26a69a"/><rect x="601" y="287" width="3" height="1" fill="#26a69a"/>
<rect x="606" y="247" width="1" height="42" fill="#26a69a"/><rect x="605" y="250" width="3" height="38" fill="#26a69a"/>
<rect x="610" y="216" width="1" height="37" fill="#26a69a"/><rect x="609" y="218" width="3" height="32" fill="#26a69a"/>
<rect x="614" y="200" width="1" height="32" fill="#ef5350"/><rect x="613" y="218" width="3" height="5" fill="#ef5350"/>
<rect x="618" y="201" width="1" height="35" fill="#ef5350"/><rect x="617" y="222" width="3" height="13" fill="#ef5350"/>
<rect x="621" y="212" width="1" height="53" fill="#26a69a"/><rect x="620" y="217" width="3" height="18" fill="#26a69a"/>
<rect x="625" y="213" width="1" height="37" fill="#ef5350"/><rect x="624" y="217" width="3" height="22" fill="#ef5350"/>
<rect x="629" y="225" width="1" height="17" fill="#26a69a"/><rect x="628" y="228" width="3" height="11" fill="#26a69a"/>
<rect x="633" y="183" width="1" height="49" fill="#26a69a"/><rect x="632" y="221" width="3" height="8" fill="#26a69a"/>
<rect x="637" y="205" width="1" height="50" fill="#ef5350"/><rect x="636" y="221" width="3" height="19" fill="#ef5350"/>
<rect x="641" y="228" width="1" height="34" fill="#ef5350"/><rect x="640" y="239" width="3" height="6" fill="#ef5350"/>
<rect x="645" y="239" width="1" height="40" fill="#ef5350"/><rect x="644" y="244" width="3" height="26" fill="#ef5350"/>
<rect x="648" y="259" width="1" height="46" fill="#ef5350"/><rect x="647" y="269" width="3" height="34" fill="#ef5350"/>
<rect x="652" y="283" width="1" height="42" fill="#26a69a"/><rect x="651" y="292" width="3" height="21" fill="#26a69a"/>
<rect x="656" y="276" width="1" height="43" fill="#26a69a"/><rect x="655" y="279" width="3" height="14" fill="#26a69a"/>
<rect x="660" y="253" width="1" height="50" fill="#26a69a"/><rect x="659" y="256" width="3" height="24" fill="#26a69a"/>
<rect x="664" y="249" width="1" height="25" fill="#ef5350"/><rect x="663" y="256" width="3" height="7" fill="#ef5350"/>
<rect x="668" y="247" width="1" height="24" fill="#ef5350"/><rect x="667" y="262" width="3" height="6" fill="#ef5350"/>
<rect x="672" y="257" width="1" height="23" fill="#ef5350"/><rect x="671" y="267" width="3" height="13" fill="#ef5350"/>
<rect x="675" y="265" width="1" height="18" fill="#26a69a"/><rect x="674" y="271" width="3" height="9" fill="#26a69a"/>
<rect x="679" y="259" width="1" height="15" fill="#26a69a"/><rect x="678" y="260" width="3" height="12" fill="#26a69a"/>
<rect x="683" y="240" width="1" height="23" fill="#26a69a"/><rect x="682" y="241" width="3" height="20" fill="#26a69a"/>
<rect x="687" y="227" width="1" height="20" fill="#ef5350"/><rect x="686" y="241" width="3" height="3" fill="#ef5350"/>
<rect x="691" y="241" width="1" height="28" fill="#ef5350"/><rect x="690" y="243" width="3" height="26" fill="#ef5350"/>
<rect x="695" y="235" width="1" height="35" fill="#26a69a"/><rect x="694" y="240" width="3" height="30" fill="#26a69a"/>
<rect x="699" y="227" width="1" height="16" fill="#26a69a"/><rect x="698" y="236" width="3" height="5" fill="#26a69a"/>
<rect x="703" y="235" width="1" height="27" fill="#ef5350"/><rect x="702" y="236" width="3" height="13" fill="#ef5350"/>
<rect x="706" y="242" width="1" height="14" fill="#26a69a"/><rect x="705" y="247" width="3" height="2" fill="#26a69a"/>
<rect x="710" y="238" width="1" height="14" fill="#26a69a"/><rect x="709" y="240" width="3" height="8" fill="#26a69a"/>
<rect x="714" y="237" width="1" height="19" fill="#ef5350"/><rect x="713" y="240" width="3" height="13" fill="#ef5350"/>
<rect x="718" y="248" width="1" height="20" fill="#26a69a"/><rect x="717" y="250" width="3" height="3" fill="#26a69a"/>
<rect x="722" y="229" width="1" height="22" fill="#26a69a"/><rect x="721" y="232" width="3" height="19" fill="#26a69a"/>
<rect x="726" y="200" width="1" height="33" fill="#26a69a"/><rect x="725" y="202" width="3" height="31" fill="#26a69a"/>
<rect x="730" y="173" width="1" height="33" fill="#26a69a"/><rect x="729" y="178" width="3" height="24" fill="#26a69a"/>
<rect x="733" y="168" width="1" height="22" fill="#26a69a"/><rect x="732" y="171" width="3" height="8" fill="#26a69a"/>
<rect x="737" y="150" width="1" height="23" fill="#26a69a"/><rect x="736" y="154" width="3" height="18" fill="#26a69a"/>
<rect x="741" y="144" width="1" height="33" fill="#ef5350"/><rect x="740" y="154" width="3" height="14" fill="#ef5350"/>
<rect x="745" y="159" width="1" height="17" fill="#26a69a"/><rect x="744" y="164" width="3" height="4" fill="#26a69a"/>
<rect x="749" y="157" width="1" height="20" fill="#ef5350"/><rect x="748" y="164" width="3" height="9" fill="#ef5350"/>
<rect x="753" y="169" width="1" height="27" fill="#ef5350"/><rect x="752" y="172" width="3" height="15" fill="#ef5350"/>
<rect x="757" y="168" width="1" height="42" fill="#ef5350"/><rect x="756" y="186" width="3" height="12" fill="#ef5350"/>
<rect x="760" y="188" width="1" height="13" fill="#26a69a"/><rect x="759" y="196" width="3" height="1" fill="#26a69a"/>
<rect x="764" y="168" width="1" height="30" fill="#26a69a"/><rect x="763" y="181" width="3" height="15" fill="#26a69a"/>
<rect x="768" y="165" width="1" height="34" fill="#ef5350"/><rect x="767" y="181" width="3" height="18" fill="#ef5350"/>
<rect x="772" y="179" width="1" height="31" fill="#26a69a"/><rect x="771" y="179" width="3" height="24" fill="#26a69a"/>
<rect x="776" y="178" width="1" height="38" fill="#ef5350"/><rect x="775" y="179" width="3" height="25" fill="#ef5350"/>
<rect x="780" y="197" width="1" height="27" fill="#ef5350"/><rect x="779" y="203" width="3" height="17" fill="#ef5350"/>
<rect x="784" y="198" width="1" height="30" fill="#26a69a"/><rect x="783" y="199" width="3" height="21" fill="#26a69a"/>
<rect x="787" y="190" width="1" height="18" fill="#ef5350"/><rect x="786" y="199" width="3" height="9" fill="#ef5350"/>
<rect x="791" y="197" width="1" height="19" fill="#26a69a"/><rect x="790" y="203" width="3" height="5" fill="#26a69a"/>
<rect x="795" y="180" width="1" height="32" fill="#26a69a"/><rect x="794" y="202" width="3" height="3" fill="#26a69a"/>
<rect x="799" y="188" width="1" height="27" fill="#ef5350"/><rect x="798" y="202" width="3" height="4" fill="#ef5350"/>
<rect x="803" y="203" width="1" height="28" fill="#ef5350"/><rect x="802" y="205" width="3" height="12" fill="#ef5350"/>
<rect x="807" y="194" width="1" height="38" fill="#ef5350"/><rect x="806" y="217" width="3" height="15" fill="#ef5350"/>
<rect x="811" y="223" width="1" height="50" fill="#ef5350"/><rect x="810" y="230" width="3" height="32" fill="#ef5350"/>
<rect x="815" y="247" width="1" height="34" fill="#ef5350"/><rect x="814" y="261" width="3" height="8" fill="#ef5350"/>
<rect x="818" y="245" width="1" height="28" fill="#26a69a"/><rect x="817" y="256" width="3" height="13" fill="#26a69a"/>
<rect x="822" y="245" width="1" height="20" fill="#26a69a"/><rect x="821" y="250" width="3" height="7" fill="#26a69a"/>
<rect x="826" y="240" width="1" height="23" fill="#ef5350"/><rect x="825" y="250" width="3" height="4" fill="#ef5350"/>
<rect x="830" y="246" width="1" height="22" fill="#ef5350"/><rect x="829" y="253" width="3" height="5" fill="#ef5350"/>
<rect x="834" y="229" width="1" height="33" fill="#26a69a"/><rect x="833" y="230" width="3" height="28" fill="#26a69a"/>
<rect x="838" y="222" width="1" height="15" fill="#26a69a"/><rect x="837" y="228" width="3" height="3" fill="#26a69a"/>
<rect x="842" y="194" width="1" height="39" fill="#26a69a"/><rect x="841" y="204" width="3" height="27" fill="#26a69a"/>
<rect x="845" y="187" width="1" height="24" fill="#26a69a"/><rect x="844" y="189" width="3" height="15" fill="#26a69a"/>
<rect x="849" y="174" width="1" height="40" fill="#ef5350"/><rect x="848" y="189" width="3" height="20" fill="#ef5350"/>
<rect x="853" y="183" width="1" height="35" fill="#26a69a"/><rect x="852" y="193" width="3" height="16" fill="#26a69a"/>
<rect x="857" y="163" width="1" height="47" fill="#26a69a"/><rect x="856" y="166" width="3" height="28" fill="#26a69a"/>
<rect x="861" y="154" width="1" height="49" fill="#ef5350"/><rect x="860" y="166" width="3" height="20" fill="#ef5350"/>
<rect x="865" y="148" width="1" height="40" fill="#26a69a"/><rect x="864" y="165" width="3" height="22" fill="#26a69a"/>
<rect x="869" y="160" width="1" height="21" fill="#ef5350"/><rect x="868" y="165" width="3" height="15" fill="#ef5350"/>
<rect x="872" y="165" width="1" height="18" fill="#ef5350"/><rect x="871" y="179" width="3" height="3" fill="#ef5350"/>
<rect x="876" y="180" width="1" height="29" fill="#ef5350"/><rect x="875" y="181" width="3" height="25" fill="#ef5350"/>
<rect x="880" y="199" width="1" height="32" fill="#ef5350"/><rect x="879" y="206" width="3" height="21" fill="#ef5350"/>
<rect x="884" y="206" width="1" height="27" fill="#26a69a"/><rect x="883" y="209" width="3" height="18" fill="#26a69a"/>
<rect x="888" y="209" width="1" height="26" fill="#ef5350"/><rect x="887" y="209" width="3" height="25" fill="#ef5350"/>
<rect x="892" y="186" width="1" height="51" fill="#26a69a"/><rect x="891" y="188" width="3" height="47" fill="#26a69a"/>
<rect x="896" y="188" width="1" height="22" fill="#ef5350"/><rect x="895" y="188" width="3" height="4" fill="#ef5350"/>
<rect x="900" y="173" width="1" height="32" fill="#26a69a"/><rect x="899" y="181" width="3" height="11" fill="#26a69a"/>
<rect x="903" y="169" width="1" height="45" fill="#ef5350"/><rect x="902" y="181" width="3" height="29" fill="#ef5350"/>
<rect x="907" y="146" width="1" height="70" fill="#26a69a"/><rect x="906" y="155" width="3" height="55" fill="#26a69a"/>
<rect x="911" y="132" width="1" height="42" fill="#ef5350"/><rect x="910" y="155" width="3" height="17" fill="#ef5350"/>
<rect x="915" y="153" width="1" height="33" fill="#ef5350"/><rect x="914" y="172" width="3" height="13" fill="#ef5350"/>
<rect x="919" y="181" width="1" height="25" fill="#ef5350"/><rect x="918" y="185" width="3" height="13" fill="#ef5350"/>
<rect x="923" y="192" width="1" height="14" fill="#ef5350"/><rect x="922" y="197" width="3" height="4" fill="#ef5350"/>
<rect x="927" y="188" width="1" height="15" fill="#26a69a"/><rect x="926" y="198" width="3" height="3" fill="#26a69a"/>
<rect x="930" y="187" width="1" height="29" fill="#ef5350"/><rect x="929" y="198" width="3" height="12" fill="#ef5350"/>
<rect x="934" y="191" width="1" height="20" fill="#26a69a"/><rect x="933" y="192" width="3" height="18" fill="#26a69a"/>
<rect x="938" y="177" width="1" height="18" fill="#26a69a"/><rect x="937" y="183" width="3" height="10" fill="#26a69a"/>
<rect x="942" y="178" width="1" height="18" fill="#ef5350"/><rect x="941" y="183" width="3" height="6" fill="#ef5350"/>
<rect x="946" y="165" width="1" height="25" fill="#26a69a"/><rect x="945" y="170" width="3" height="19" fill="#26a69a"/>
<rect x="950" y="164" width="1" height="23" fill="#ef5350"/><rect x="949" y="170" width="3" height="13" fill="#ef5350"/>
<rect x="954" y="165" width="1" height="18" fill="#26a69a"/><rect x="953" y="171" width="3" height="12" fill="#26a69a"/>
<rect x="957" y="125" width="1" height="47" fill="#26a69a"/><rect x="956" y="135" width="3" height="37" fill="#26a69a"/>
<rect x="961" y="94" width="1" height="44" fill="#26a69a"/><rect x="960" y="112" width="3" height="24" fill="#26a69a"/>
<rect x="965" y="86" width="1" height="33" fill="#26a69a"/><rect x="964" y="92" width="3" height="20" fill="#26a69a"/>
<rect x="969" y="75" width="1" height="40" fill="#26a69a"/><rect x="968" y="76" width="3" height="16" fill="#26a69a"/>
<rect x="973" y="72" width="1" height="26" fill="#ef5350"/><rect x="972" y="76" width="3" height="18" fill="#ef5350"/>
<rect x="977" y="77" width="1" height="26" fill="#ef5350"/><rect x="976" y="93" width="3" height="9" fill="#ef5350"/>
<rect x="981" y="93" width="1" height="17" fill="#ef5350"/><rect x="980" y="101" width="3" height="8" fill="#ef5350"/>
<rect x="985" y="99" width="1" height="25" fill="#26a69a"/><rect x="984" y="105" width="3" height="4" fill="#26a69a"/>
<rect x="988" y="100" width="1" height="22" fill="#26a69a"/><rect x="987" y="101" width="3" height="5" fill="#26a69a"/>
<rect x="992" y="67" width="1" height="40" fill="#26a69a"/><rect x="991" y="69" width="3" height="32" fill="#26a69a"/>
<rect x="996" y="54" width="1" height="20" fill="#26a69a"/><rect x="995" y="61" width="3" height="9" fill="#26a69a"/>
<rect x="1000" y="55" width="1" height="39" fill="#ef5350"/><rect x="999" y="61" width="3" height="25" fill="#ef5350"/>
<rect x="1004" y="80" width="1" height="27" fill="#ef5350"/><rect x="1003" y="85" width="3" height="19" fill="#ef5350"/>
<rect x="1008" y="102" width="1" height="36" fill="#ef5350"/><rect x="1007" y="104" width="3" height="33" fill="#ef5350"/>
<rect x="1012" y="131" width="1" height="49" fill="#ef5350"/><rect x="1011" y="136" width="3" height="35" fill="#ef5350"/>
<rect x="1015" y="154" width="1" height="44" fill="#ef5350"/><rect x="1014" y="170" width="3" height="26" fill="#ef5350"/>
<rect x="1019" y="174" width="1" height="34" fill="#26a69a"/><rect x="1018" y="185" width="3" height="11" fill="#26a69a"/>
<rect x="1023" y="182" width="1" height="60" fill="#ef5350"/><rect x="1022" y="185" width="3" height="52" fill="#ef5350"/>
<rect x="1027" y="185" width="1" height="52" fill="#26a69a"/><rect x="1026" y="193" width="3" height="44" fill="#26a69a"/>
<rect x="1031" y="176" width="1" height="34" fill="#26a69a"/><rect x="1030" y="184" width="3" height="9" fill="#26a69a"/>
<rect x="1035" y="169" width="1" height="42" fill="#26a69a"/><rect x="1034" y="170" width="3" height="15" fill="#26a69a"/>
<rect x="1039" y="161" width="1" height="30" fill="#ef5350"/><rect x="1038" y="170" width="3" height="11" fill="#ef5350"/>
<rect x="1042" y="177" width="1" height="29" fill="#ef5350"/><rect x="1041" y="180" width="3" height="10" fill="#ef5350"/>
<rect x="1046" y="161" width="1" height="34" fill="#26a69a"/><rect x="1045" y="170" width="3" height="20" fill="#26a69a"/>
<rect x="1050" y="133" width="1" height="39" fill="#26a69a"/><rect x="1049" y="136" width="3" height="34" fill="#26a69a"/>
<rect x="1054" y="135" width="1" height="25" fill="#ef5350"/><rect x="1053" y="136" width="3" height="14" fill="#ef5350"/>
<rect x="1058" y="148" width="1" height="17" fill="#ef5350"/><rect x="1057" y="149" width="3" height="3" fill="#ef5350"/>
<rect x="1062" y="130" width="1" height="41" fill="#ef5350"/><rect x="1061" y="152" width="3" height="11" fill="#ef5350"/>
<rect x="1066" y="146" width="1" height="25" fill="#ef5350"/><rect x="1065" y="162" width="3" height="8" fill="#ef5350"/>
<rect x="1069" y="159" width="1" height="37" fill="#ef5350"/><rect x="1068" y="169" width="3" height="22" fill="#ef5350"/>
<rect x="1073" y="169" width="1" height="25" fill="#26a69a"/><rect x="1072" y="176" width="3" height="15" fill="#26a69a"/>
<rect x="1077" y="175" width="1" height="41" fill="#ef5350"/><rect x="1076" y="176" width="3" height="26" fill="#ef5350"/>
<rect x="1081" y="187" width="1" height="235" fill="#ef5350"/><rect x="1080" y="201" width="3" height="60" fill="#ef5350"/>
<rect x="1085" y="230" width="1" height="55" fill="#ef5350"/><rect x="1084" y="262" width="3" height="8" fill="#ef5350"/>
<rect x="1089" y="230" width="1" height="48" fill="#26a69a"/><rect x="1088" y="242" width="3" height="28" fill="#26a69a"/>
<rect x="1093" y="204" width="1" height="46" fill="#26a69a"/><rect x="1092" y="215" width="3" height="28" fill="#26a69a"/>
<rect x="1097" y="209" width="1" height="54" fill="#ef5350"/><rect x="1096" y="215" width="3" height="32" fill="#ef5350"/>
<rect x="1100" y="227" width="1" height="42" fill="#ef5350"/><rect x="1099" y="246" width="3" height="18" fill="#ef5350"/>
<rect x="1104" y="246" width="1" height="28" fill="#ef5350"/><rect x="1103" y="263" width="3" height="7" fill="#ef5350"/>
<rect x="1108" y="263" width="1" height="40" fill="#ef5350"/><rect x="1107" y="269" width="3" height="14" fill="#ef5350"/>
<rect x="1112" y="268" width="1" height="23" fill="#26a69a"/><rect x="1111" y="270" width="3" height="13" fill="#26a69a"/>
<rect x="1116" y="252" width="1" height="27" fill="#26a69a"/><rect x="1115" y="264" width="3" height="6" fill="#26a69a"/>
<rect x="1120" y="243" width="1" height="22" fill="#26a69a"/><rect x="1119" y="258" width="3" height="6" fill="#26a69a"/>
<rect x="1124" y="254" width="1" height="31" fill="#ef5350"/><rect x="1123" y="258" width="3" height="26" fill="#ef5350"/>
<rect x="1127" y="269" width="1" height="23" fill="#26a69a"/><rect x="1126" y="275" width="3" height="9" fill="#26a69a"/>
<rect x="1131" y="231" width="1" height="45" fill="#26a69a"/><rect x="1130" y="237" width="3" height="39" fill="#26a69a"/>
<rect x="1135" y="230" width="1" height="21" fill="#ef5350"/><rect x="1134" y="237" width="3" height="9" fill="#ef5350"/>
<rect x="1139" y="194" width="1" height="54" fill="#26a69a"/><rect x="1138" y="199" width="3" height="48" fill="#26a69a"/>
<rect x="1143" y="157" width="1" height="47" fill="#26a69a"/><rect x="1142" y="169" width="3" height="30" fill="#26a69a"/>
<rect x="1147" y="149" width="1" height="37" fill="#ef5350"/><rect x="1146" y="169" width="3" height="8" fill="#ef5350"/>
<rect x="1151" y="149" width="1" height="32" fill="#26a69a"/><rect x="1150" y="165" width="3" height="12" fill="#26a69a"/>
<rect x="1154" y="144" width="1" height="39" fill="#26a69a"/><rect x="1153" y="162" width="3" height="4" fill="#26a69a"/>
<rect x="1158" y="142" width="1" height="70" fill="#ef5350"/><rect x="1157" y="162" width="3" height="25" fill="#ef5350"/>
<rect x="1162" y="179" width="1" height="36" fill="#ef5350"/><rect x="1161" y="186" width="3" height="23" fill="#ef5350"/>
<rect x="1166" y="196" width="1" height="16" fill="#ef5350"/><rect x="1165" y="204" width="3" height="5" fill="#ef5350"/>
<rect x="1170" y="206" width="1" height="22" fill="#ef5350"/><rect x="1169" y="207" width="3" height="9" fill="#ef5350"/>
<rect x="1174" y="214" width="1" height="42" fill="#ef5350"/><rect x="1173" y="215" width="3" height="22" fill="#ef5350"/>
<rect x="1178" y="231" width="1" height="52" fill="#ef5350"/><rect x="1177" y="237" width="3" height="12" fill="#ef5350"/>
<rect x="1182" y="219" width="1" height="44" fill="#26a69a"/><rect x="1181" y="226" width="3" height="23" fill="#26a69a"/>
<rect x="1185" y="226" width="1" height="35" fill="#ef5350"/><rect x="1184" y="226" width="3" height="27" fill="#ef5350"/>
<rect x="1189" y="231" width="1" height="27" fill="#26a69a"/><rect x="1188" y="236" width="3" height="17" fill="#26a69a"/>
</g>
<line x1="10" y1="236.5" x2="1212" y2="236.5" stroke="#26a69a" stroke-width="1" stroke-dasharray="1 2"/>
<line x1="795.1" y1="282.5" x2="1276.5" y2="282.5" stroke="#0000ff" stroke-width="3" stroke-dasharray="15 18"/>
<line x1="817" y1="238.6" x2="1231.6" y2="249.3" stroke="#1c3d7c" stroke-width="3.1" stroke-linecap="round"/>
<path d="M911.7 242.6 L938.7 247.3 H992.7 a6 6 0 0 1 6 6 V273.9 a6 6 0 0 1 -6 6 H937.4 a6 6 0 0 1 -6 -6 V255.5 Z" fill="#fff" stroke="#9a2227" stroke-width="1.2" stroke-linejoin="round"/>
<text x="942.3" y="266.9" font-size="12" fill="#9a2227" textLength="45.6" lengthAdjust="spacingAndGlyphs"  stroke="#9a2227" stroke-width="0.25">Neckline</text>
<text x="981.5" y="50.4" font-size="22.0" fill="#0f9d8a" font-weight="bold" stroke="#0f9d8a" stroke-width="0.7">H</text>
<text x="853.5" y="119" font-size="21.4" fill="#0f9d8a" textLength="11.8" lengthAdjust="spacingAndGlyphs" font-weight="bold" stroke="#0f9d8a" stroke-width="0.5">S</text>
<text x="1054.5" y="110.6" font-size="21.4" fill="#0f9d8a" textLength="11.8" lengthAdjust="spacingAndGlyphs" font-weight="bold" stroke="#0f9d8a" stroke-width="0.5">S</text>
</g>
<rect x="1177.8" y="535" width="23.4" height="23" fill="#fff"/>
<path d="M1191.98 537.13 A9.6 9.6 0 1 0 1198.89 544.40" fill="none" stroke="#9c27b0" stroke-width="1.5" stroke-linecap="round"/>
<path d="M1192.00 541.07 L1185.25 546.61 L1189.17 547.04 L1186.34 551.88 L1193.75 546.30 L1189.83 545.86 Z" fill="#9c27b0"/>
<circle cx="1196.4" cy="539.5" r="2.6" fill="#f23645"/>
<g stroke="#f3f3f5" stroke-width="2" fill="none" shape-rendering="crispEdges">
<rect x="10" y="27" width="1332" height="739"/>
</g>
<g stroke="#e2e4ea" stroke-width="1" fill="none" shape-rendering="crispEdges">
<line x1="1276.5" y1="27" x2="1276.5" y2="765"/>
<line x1="10" y1="738.5" x2="1342" y2="738.5"/>
</g>
<line x1="10" y1="559.5" x2="1342" y2="559.5" stroke="#e0e3eb" stroke-width="1" shape-rendering="crispEdges"/>
<text y="46" font-size="12" fill="#131722" stroke="#131722" stroke-width="0.25" ><tspan x="17.7" textLength="61.6" lengthAdjust="spacingAndGlyphs">Hyperliquid</tspan> <tspan x="84.5" textLength="4.8" lengthAdjust="spacingAndGlyphs">/</tspan> <tspan x="93.8" textLength="34.9" lengthAdjust="spacingAndGlyphs">Tether</tspan> <tspan x="131.7" textLength="3" lengthAdjust="spacingAndGlyphs">·</tspan> <tspan x="139.7" textLength="13.9" lengthAdjust="spacingAndGlyphs">1D</tspan> <tspan x="156.7" textLength="3" lengthAdjust="spacingAndGlyphs">·</tspan> <tspan x="164.8" textLength="36.5" lengthAdjust="spacingAndGlyphs">KuCoin</tspan></text>
<text x="209.4" y="46" font-size="12" fill="#131722" textLength="7.1" lengthAdjust="spacingAndGlyphs"  stroke="#131722" stroke-width="0.25">O</text>
<text x="217.2" y="46" font-size="12" fill="#26a69a" textLength="35.5" lengthAdjust="spacingAndGlyphs"  stroke="#26a69a" stroke-width="0.25">38.484</text>
<text x="260.5" y="46" font-size="12" fill="#131722" textLength="7.1" lengthAdjust="spacingAndGlyphs"  stroke="#131722" stroke-width="0.25">H</text>
<text x="268.6" y="46" font-size="12" fill="#26a69a" textLength="35" lengthAdjust="spacingAndGlyphs"  stroke="#26a69a" stroke-width="0.25">40.810</text>
<text x="311.4" y="46" font-size="12" fill="#131722" textLength="5.2" lengthAdjust="spacingAndGlyphs"  stroke="#131722" stroke-width="0.25">L</text>
<text x="317.1" y="46" font-size="12" fill="#26a69a" textLength="35.7" lengthAdjust="spacingAndGlyphs"  stroke="#26a69a" stroke-width="0.25">37.984</text>
<text x="360.4" y="46" font-size="12" fill="#131722" textLength="6.6" lengthAdjust="spacingAndGlyphs"  stroke="#131722" stroke-width="0.25">C</text>
<text x="368" y="46" font-size="12" fill="#26a69a" textLength="34.5" lengthAdjust="spacingAndGlyphs"  stroke="#26a69a" stroke-width="0.25">40.317</text>
<text x="410.6" y="46" font-size="12" fill="#26a69a" textLength="84.7" lengthAdjust="spacingAndGlyphs"  stroke="#26a69a" stroke-width="0.25">+1.784 (+4.63%)</text>
<text x="18.2" y="63" font-size="12" fill="#131722" textLength="82" lengthAdjust="spacingAndGlyphs"  stroke="#131722" stroke-width="0.25">EMA (20, close)</text>
<text x="107.6" y="63" font-size="12" fill="#2962ff" textLength="35.4" lengthAdjust="spacingAndGlyphs"  stroke="#2962ff" stroke-width="0.25">41.776</text>
<text x="18.2" y="80" font-size="12" fill="#131722" textLength="81.3" lengthAdjust="spacingAndGlyphs"  stroke="#131722" stroke-width="0.25">SMA (50, close)</text>
<text x="107" y="80" font-size="12" fill="#f23645" textLength="35" lengthAdjust="spacingAndGlyphs"  stroke="#f23645" stroke-width="0.25">43.446</text>
<text x="18.2" y="578.4" font-size="12" fill="#131722" textLength="75.8" lengthAdjust="spacingAndGlyphs"  stroke="#131722" stroke-width="0.25">RSI (14, close)</text>
<text x="102" y="578.4" font-size="12" fill="#7e57c2" textLength="29.4" lengthAdjust="spacingAndGlyphs"  stroke="#7e57c2" stroke-width="0.25">46.30</text>
<text x="138.6" y="578.4" font-size="12" fill="#fccf3a" textLength="29.4" lengthAdjust="spacingAndGlyphs"  stroke="#fccf3a" stroke-width="0.25">51.48</text>
<text x="1285.4" y="91" font-size="12" fill="#131722" textLength="35.1" lengthAdjust="spacingAndGlyphs"  stroke="#131722" stroke-width="0.25">56.000</text>
<text x="1285.4" y="129" font-size="12" fill="#131722" textLength="35.1" lengthAdjust="spacingAndGlyphs"  stroke="#131722" stroke-width="0.25">52.000</text>
<text x="1285.4" y="167" font-size="12" fill="#131722" textLength="35.1" lengthAdjust="spacingAndGlyphs"  stroke="#131722" stroke-width="0.25">48.000</text>
<text x="1285.4" y="205" font-size="12" fill="#131722" textLength="35.1" lengthAdjust="spacingAndGlyphs"  stroke="#131722" stroke-width="0.25">44.000</text>
<text x="1285.4" y="243" font-size="12" fill="#131722" textLength="35.1" lengthAdjust="spacingAndGlyphs"  stroke="#131722" stroke-width="0.25">40.000</text>
<text x="1285.4" y="281" font-size="12" fill="#131722" textLength="35.1" lengthAdjust="spacingAndGlyphs"  stroke="#131722" stroke-width="0.25">36.000</text>
<text x="1285.4" y="319" font-size="12" fill="#131722" textLength="35.1" lengthAdjust="spacingAndGlyphs"  stroke="#131722" stroke-width="0.25">32.000</text>
<text x="1285.4" y="358" font-size="12" fill="#131722" textLength="35.1" lengthAdjust="spacingAndGlyphs"  stroke="#131722" stroke-width="0.25">28.000</text>
<text x="1285.4" y="396" font-size="12" fill="#131722" textLength="35.1" lengthAdjust="spacingAndGlyphs"  stroke="#131722" stroke-width="0.25">24.000</text>
<text x="1285.4" y="434" font-size="12" fill="#131722" textLength="35.1" lengthAdjust="spacingAndGlyphs"  stroke="#131722" stroke-width="0.25">20.000</text>
<text x="1285.4" y="472" font-size="12" fill="#131722" textLength="35.1" lengthAdjust="spacingAndGlyphs"  stroke="#131722" stroke-width="0.25">16.000</text>
<text x="1285.4" y="510" font-size="12" fill="#131722" textLength="35.1" lengthAdjust="spacingAndGlyphs"  stroke="#131722" stroke-width="0.25">12.000</text>
<text x="1285.4" y="548" font-size="12" fill="#131722" textLength="29" lengthAdjust="spacingAndGlyphs"  stroke="#131722" stroke-width="0.25">8.000</text>
<text x="1284.9" y="587.5" font-size="12" fill="#131722" textLength="29.4" lengthAdjust="spacingAndGlyphs"  stroke="#131722" stroke-width="0.25">80.00</text>
<text x="1284.9" y="639" font-size="12" fill="#131722" textLength="29.4" lengthAdjust="spacingAndGlyphs"  stroke="#131722" stroke-width="0.25">60.00</text>
<text x="1284.9" y="690.4" font-size="12" fill="#131722" textLength="29.4" lengthAdjust="spacingAndGlyphs"  stroke="#131722" stroke-width="0.25">40.00</text>
<rect x="1280.5" y="31.5" width="57" height="25" rx="4" fill="#fff" stroke="#e0e3eb"/>
<text x="1289.3" y="48.6" font-size="12" fill="#131722" textLength="27.5" lengthAdjust="spacingAndGlyphs"  stroke="#131722" stroke-width="0.25">USDT</text>
<path d="M1228.7 194 H1276 V210.8 H1228.7 a2.5 2.5 0 0 1 -2.5 -2.5 V196.5 a2.5 2.5 0 0 1 2.5 -2.5 Z" fill="#f23645"/>
<path d="M1277 194 H1323.5 a2.5 2.5 0 0 1 2.5 2.5 V208.3 a2.5 2.5 0 0 1 -2.5 2.5 H1277 Z" fill="#f23645"/>
<text x="1230.9" y="207.1" font-size="12" fill="#fff" textLength="41.5" lengthAdjust="spacingAndGlyphs" stroke="#fff" stroke-width="0.55">SMA:MA</text>
<text x="1284.9" y="207.1" font-size="12" fill="#fff" textLength="35.5" lengthAdjust="spacingAndGlyphs" stroke="#fff" stroke-width="0.55">43.446</text>
<path d="M1247.7 211.2 H1276 V227.9 H1247.7 a2.5 2.5 0 0 1 -2.5 -2.5 V213.7 a2.5 2.5 0 0 1 2.5 -2.5 Z" fill="#2962ff"/>
<path d="M1277 211.2 H1323.5 a2.5 2.5 0 0 1 2.5 2.5 V225.4 a2.5 2.5 0 0 1 -2.5 2.5 H1277 Z" fill="#2962ff"/>
<text x="1250.1" y="223.8" font-size="12" fill="#fff" textLength="22.3" lengthAdjust="spacingAndGlyphs" stroke="#fff" stroke-width="0.55">EMA</text>
<text x="1284.9" y="223.8" font-size="12" fill="#fff" textLength="35.5" lengthAdjust="spacingAndGlyphs" stroke="#fff" stroke-width="0.55">41.776</text>
<path d="M1214.7 228.2 H1276 V244.9 H1214.7 a2.5 2.5 0 0 1 -2.5 -2.5 V230.7 a2.5 2.5 0 0 1 2.5 -2.5 Z" fill="#26a69a"/>
<path d="M1277 228.2 H1334.6 a2.5 2.5 0 0 1 2.5 2.5 V270.5 a2.5 2.5 0 0 1 -2.5 2.5 H1277 Z" fill="#26a69a"/>
<text x="1216.7" y="240.9" font-size="12" fill="#fff" textLength="53.6" lengthAdjust="spacingAndGlyphs" stroke="#fff" stroke-width="0.55">HYPEUSDT</text>
<text x="1284.9" y="240.9" font-size="12" fill="#fff" textLength="35.5" lengthAdjust="spacingAndGlyphs" stroke="#fff" stroke-width="0.55">40.317</text>
<text x="1284.9" y="255" font-size="12" fill="#fff" textLength="42.5" lengthAdjust="spacingAndGlyphs" stroke="#fff" stroke-width="0.55">+65.17%</text>
<text x="1284.9" y="269" font-size="12" fill="#fff" textLength="46.6" lengthAdjust="spacingAndGlyphs" fill-opacity="0.75" stroke="#fff" stroke-opacity="0.75" stroke-width="0.4">07:44:29</text>
<path d="M1277 274.1 H1323.5 a2.5 2.5 0 0 1 2.5 2.5 V288.3 a2.5 2.5 0 0 1 -2.5 2.5 H1277 Z" fill="#0000ff"/>
<text x="1284.9" y="287" font-size="12" fill="#fff" textLength="35.5" lengthAdjust="spacingAndGlyphs" stroke="#fff" stroke-width="0.55">35.500</text>
<path d="M1199.5 645.2 H1276 V661.7 H1199.5 a2.5 2.5 0 0 1 -2.5 -2.5 V647.7 a2.5 2.5 0 0 1 2.5 -2.5 Z" fill="#fdd835"/>
<path d="M1277 645.2 H1317.5 a2.5 2.5 0 0 1 2.5 2.5 V659.2 a2.5 2.5 0 0 1 -2.5 2.5 H1277 Z" fill="#fdd835"/>
<text x="1201.6" y="658" font-size="12" fill="#131722" textLength="70.3" lengthAdjust="spacingAndGlyphs"  stroke="#131722" stroke-width="0.25">RSI-based MA</text>
<text x="1284.9" y="658" font-size="12" fill="#131722" textLength="29.4" lengthAdjust="spacingAndGlyphs"  stroke="#131722" stroke-width="0.25">51.48</text>
<path d="M1253.5 662.3 H1276 V678.8 H1253.5 a2.5 2.5 0 0 1 -2.5 -2.5 V664.8 a2.5 2.5 0 0 1 2.5 -2.5 Z" fill="#7e57c2"/>
<path d="M1277 662.3 H1317.5 a2.5 2.5 0 0 1 2.5 2.5 V676.3 a2.5 2.5 0 0 1 -2.5 2.5 H1277 Z" fill="#7e57c2"/>
<text x="1256.1" y="674.6" font-size="12" fill="#fff" textLength="15.8" lengthAdjust="spacingAndGlyphs" stroke="#fff" stroke-width="0.55">RSI</text>
<text x="1284.9" y="674.6" font-size="12" fill="#fff" textLength="29.4" lengthAdjust="spacingAndGlyphs" stroke="#fff" stroke-width="0.55">46.30</text>
<text x="111.3" y="755.8" font-size="12" fill="#131722" text-anchor="middle" stroke="#131722" stroke-width="0.45">Feb</text>
<text x="220.3" y="755.8" font-size="12" fill="#131722" text-anchor="middle" stroke="#131722" stroke-width="0.45">Mar</text>
<text x="339.8" y="755.8" font-size="12" fill="#131722" text-anchor="middle" stroke="#131722" stroke-width="0.45">Apr</text>
<text x="455.7" y="755.8" font-size="12" fill="#131722" text-anchor="middle" stroke="#131722" stroke-width="0.45">May</text>
<text x="575.6" y="755.8" font-size="12" fill="#131722" text-anchor="middle" stroke="#131722" stroke-width="0.45">Jun</text>
<text x="691.3" y="755.8" font-size="12" fill="#131722" text-anchor="middle" stroke="#131722" stroke-width="0.45">Jul</text>
<text x="811.5" y="755.8" font-size="12" fill="#131722" text-anchor="middle" stroke="#131722" stroke-width="0.45">Aug</text>
<text x="930.5" y="755.8" font-size="12" fill="#131722" text-anchor="middle" stroke="#131722" stroke-width="0.45">Sep</text>
<text x="1046.6" y="755.8" font-size="12" fill="#131722" text-anchor="middle" stroke="#131722" stroke-width="0.45">Oct</text>
<text x="1166.6" y="755.8" font-size="12" fill="#131722" text-anchor="middle" stroke="#131722" stroke-width="0.45">Nov</text>
<g fill="#15161b">
<path d="M12.1 788 H23.7 V802.8 H18 V793.9 H12.1 Z"/>
<circle cx="29.1" cy="791" r="2.6"/>
<path d="M34.3 788 H41.9 L36.2 802.8 H28.8 Z"/>
</g>
<text y="803" font-size="20.5" font-weight="bold" fill="#15161b"><tspan x="48.6" textLength="72.2" lengthAdjust="spacingAndGlyphs">Trading</tspan><tspan x="120.3" textLength="49.6" lengthAdjust="spacingAndGlyphs">View</tspan></text>
</svg>
</body></html>
